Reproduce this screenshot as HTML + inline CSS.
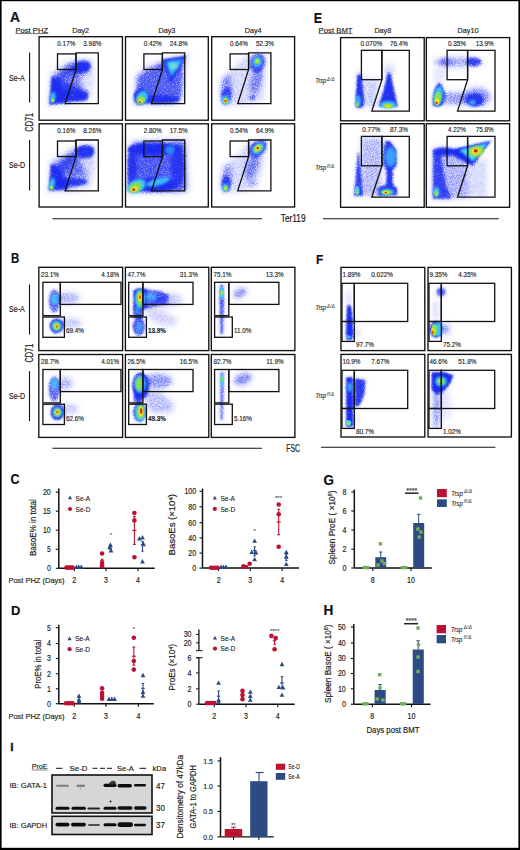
<!DOCTYPE html>
<html><head><meta charset="utf-8"><title>Figure</title>
<style>
html,body{margin:0;padding:0;background:#fff;}
body{width:520px;height:850px;overflow:hidden;font-family:"Liberation Sans", sans-serif;}
svg{display:block;}
</style></head><body>
<svg width="520" height="850" viewBox="0 0 520 850" font-family='"Liberation Sans", sans-serif'>
<defs>
<filter id="f3" x="-50%" y="-50%" width="200%" height="200%"><feGaussianBlur stdDeviation="0.3"/></filter>
<filter id="f4" x="-50%" y="-50%" width="200%" height="200%"><feGaussianBlur stdDeviation="0.4"/></filter>
<filter id="f5" x="-50%" y="-50%" width="200%" height="200%"><feGaussianBlur stdDeviation="0.5"/></filter>
<filter id="f6" x="-50%" y="-50%" width="200%" height="200%"><feGaussianBlur stdDeviation="0.6"/></filter>
<filter id="f7" x="-50%" y="-50%" width="200%" height="200%"><feGaussianBlur stdDeviation="0.7"/></filter>
<filter id="f8" x="-50%" y="-50%" width="200%" height="200%"><feGaussianBlur stdDeviation="0.8"/></filter>
<filter id="f9" x="-50%" y="-50%" width="200%" height="200%"><feGaussianBlur stdDeviation="0.9"/></filter>
<filter id="f10" x="-50%" y="-50%" width="200%" height="200%"><feGaussianBlur stdDeviation="1.0"/></filter>
<filter id="f11" x="-50%" y="-50%" width="200%" height="200%"><feGaussianBlur stdDeviation="1.1"/></filter>
<filter id="f12" x="-50%" y="-50%" width="200%" height="200%"><feGaussianBlur stdDeviation="1.2"/></filter>
<filter id="f13" x="-50%" y="-50%" width="200%" height="200%"><feGaussianBlur stdDeviation="1.3"/></filter>
<filter id="f15" x="-50%" y="-50%" width="200%" height="200%"><feGaussianBlur stdDeviation="1.5"/></filter>
<filter id="f20" x="-50%" y="-50%" width="200%" height="200%"><feGaussianBlur stdDeviation="2.0"/></filter>
<filter id="spB" x="0" y="0" width="520" height="850" filterUnits="userSpaceOnUse" color-interpolation-filters="sRGB"><feGaussianBlur in="SourceAlpha" stdDeviation="1.8" result="a"/><feTurbulence type="fractalNoise" baseFrequency="1.1" numOctaves="2" seed="3" result="n"/><feColorMatrix in="n" type="matrix" values="0 0 0 0 0  0 0 0 0 0  0 0 0 0 0  0 0 0 1 0" result="na"/><feComposite in="a" in2="na" operator="arithmetic" k1="0" k2="2.2" k3="2.2" k4="-1.87" result="m"/><feComposite in="m" in2="a" operator="arithmetic" k1="0.68" k2="0" k3="0.3" k4="0" result="m2"/><feFlood flood-color="#1526f0"/><feComposite in2="m2" operator="in"/><feGaussianBlur stdDeviation="0.3"/></filter>
<clipPath id="c1"><rect x="39.80" y="37.40" width="81.90" height="82.10"/></clipPath>
<clipPath id="c2"><rect x="126.20" y="37.40" width="81.40" height="82.10"/></clipPath>
<clipPath id="c3"><rect x="212.40" y="37.40" width="81.50" height="82.10"/></clipPath>
<clipPath id="c4"><rect x="39.80" y="124.50" width="81.90" height="81.80"/></clipPath>
<clipPath id="c5"><rect x="126.20" y="124.50" width="81.40" height="81.80"/></clipPath>
<clipPath id="c6"><rect x="212.40" y="124.50" width="81.50" height="81.80"/></clipPath>
<clipPath id="c7"><rect x="341.30" y="38.30" width="82.20" height="81.80"/></clipPath>
<clipPath id="c8"><rect x="427.00" y="38.30" width="81.90" height="81.80"/></clipPath>
<clipPath id="c9"><rect x="341.30" y="124.40" width="82.20" height="82.20"/></clipPath>
<clipPath id="c10"><rect x="427.00" y="124.40" width="81.90" height="82.20"/></clipPath>
<clipPath id="c11"><rect x="39.50" y="268.00" width="82.40" height="81.90"/></clipPath>
<clipPath id="c12"><rect x="126.10" y="268.00" width="82.00" height="81.90"/></clipPath>
<clipPath id="c13"><rect x="212.00" y="268.00" width="82.20" height="81.90"/></clipPath>
<clipPath id="c14"><rect x="39.50" y="355.20" width="82.40" height="81.50"/></clipPath>
<clipPath id="c15"><rect x="126.10" y="355.20" width="82.00" height="81.50"/></clipPath>
<clipPath id="c16"><rect x="212.00" y="355.20" width="82.20" height="81.50"/></clipPath>
<clipPath id="c17"><rect x="341.70" y="268.10" width="82.40" height="81.80"/></clipPath>
<clipPath id="c18"><rect x="428.70" y="268.10" width="82.00" height="81.80"/></clipPath>
<clipPath id="c19"><rect x="341.70" y="355.10" width="82.40" height="81.20"/></clipPath>
<clipPath id="c20"><rect x="428.70" y="355.10" width="82.00" height="81.20"/></clipPath>
</defs>
<rect x="0.00" y="0.00" width="520.00" height="850.00" fill="#fff"/>
<text transform="translate(10.00,21.90) scale(1.0,1)" x="0" y="0" font-size="13.8" text-anchor="start" font-weight="bold" font-style="normal" fill="#111" stroke="#111" stroke-width="0.200" >A</text>
<text x="15.40" y="32.50" font-size="7.6" textLength="32.70" lengthAdjust="spacingAndGlyphs" font-weight="normal" font-style="normal" fill="#222" stroke="#222" stroke-width="0.152">Post PHZ</text>
<line x1="15.40" y1="33.60" x2="48.10" y2="33.60" stroke="#333" stroke-width="0.7" />
<text transform="translate(80.70,32.50) scale(0.95,1)" x="0" y="0" font-size="7.6" text-anchor="middle" font-weight="normal" font-style="normal" fill="#222" stroke="#222" stroke-width="0.152" >Day2</text>
<text transform="translate(166.90,32.50) scale(0.95,1)" x="0" y="0" font-size="7.6" text-anchor="middle" font-weight="normal" font-style="normal" fill="#222" stroke="#222" stroke-width="0.152" >Day3</text>
<text transform="translate(253.10,32.50) scale(0.95,1)" x="0" y="0" font-size="7.6" text-anchor="middle" font-weight="normal" font-style="normal" fill="#222" stroke="#222" stroke-width="0.152" >Day4</text>
<text transform="translate(313.80,22.57) scale(0.9,1)" x="0" y="0" font-size="14.0" text-anchor="start" font-weight="bold" font-style="normal" fill="#111" stroke="#111" stroke-width="0.200" >E</text>
<text x="318.50" y="32.50" font-size="7.6" textLength="34.10" lengthAdjust="spacingAndGlyphs" font-weight="normal" font-style="normal" fill="#222" stroke="#222" stroke-width="0.152">Post BMT</text>
<line x1="318.50" y1="33.60" x2="352.60" y2="33.60" stroke="#333" stroke-width="0.7" />
<text transform="translate(382.80,32.50) scale(0.95,1)" x="0" y="0" font-size="7.6" text-anchor="middle" font-weight="normal" font-style="normal" fill="#222" stroke="#222" stroke-width="0.152" >Day8</text>
<text transform="translate(468.00,32.50) scale(0.95,1)" x="0" y="0" font-size="7.6" text-anchor="middle" font-weight="normal" font-style="normal" fill="#222" stroke="#222" stroke-width="0.152" >Day10</text>
<text transform="translate(11.00,262.51) scale(0.8,1)" x="0" y="0" font-size="14.4" text-anchor="start" font-weight="bold" font-style="normal" fill="#111" stroke="#111" stroke-width="0.200" >B</text>
<text transform="translate(316.00,263.69) scale(0.9,1)" x="0" y="0" font-size="13.2" text-anchor="start" font-weight="bold" font-style="normal" fill="#111" stroke="#111" stroke-width="0.200" >F</text>
<g clip-path="url(#c1)">
<g filter="url(#spB)">
<path d="M47.00,107.00 L49.00,72.00 L60.00,64.00 L75.00,58.00 L93.00,58.00 L95.00,80.00 L92.00,98.00 L88.00,103.00 L60.00,107.00 Z" fill="#3a4cf0" fill-opacity="0.35" filter="url(#f20)"/>
<path d="M48.50,105.00 L52.00,76.00 L89.00,92.00 L87.00,101.00 Z" fill="#3a4cf0" fill-opacity="0.7"/>
<path d="M48.50,105.00 L51.50,75.00 L58.00,82.00 L68.00,97.00 L66.00,103.00 Z" fill="#3a4cf0" fill-opacity="0.95"/>
<path d="M60.00,101.00 L62.00,90.00 L75.00,90.00 L89.00,93.00 L87.00,100.50 Z" fill="#3a4cf0" fill-opacity="0.92"/>
<ellipse cx="80.00" cy="68.00" rx="12.00" ry="8.50" fill="#3a4cf0" fill-opacity="0.5" transform="rotate(-15 80.00 68.00)" filter="url(#f20)"/>
<ellipse cx="82.00" cy="67.00" rx="9.00" ry="6.00" fill="#3a4cf0" fill-opacity="0.95" transform="rotate(-15 82.00 67.00)"/>
<path d="M51.00,80.00 L66.00,64.00 L74.00,62.00 L76.00,70.00 L62.00,80.00 L55.00,90.00 Z" fill="#3a4cf0" fill-opacity="0.55" filter="url(#f20)"/>
<path d="M52.00,77.00 L68.00,68.00 L78.00,72.00 L85.00,90.00 L68.00,92.00 L56.00,92.00 Z" fill="#3a4cf0" fill-opacity="0.55" filter="url(#f20)"/>
</g>
<ellipse cx="52.80" cy="97.50" rx="2.80" ry="5.50" fill="#3fd0ff" fill-opacity="0.85" filter="url(#f10)" transform="rotate(8 52.80 97.50)"/>
<ellipse cx="52.70" cy="100.30" rx="1.80" ry="2.00" fill="#8be04a" fill-opacity="1" filter="url(#f6)" transform="rotate(0 52.70 100.30)"/>
<ellipse cx="52.70" cy="100.50" rx="0.80" ry="0.80" fill="#f0e020" fill-opacity="1" filter="url(#f4)" transform="rotate(0 52.70 100.50)"/>
</g>
<g clip-path="url(#c2)">
<g filter="url(#spB)">
<path d="M133.00,106.00 L134.50,74.00 L145.00,66.00 L162.00,59.00 L190.00,52.00 L187.00,62.00 L184.00,97.00 L180.00,105.00 Z" fill="#3a4cf0" fill-opacity="0.45" filter="url(#f20)"/>
<path d="M135.00,104.00 L137.00,77.00 L146.00,70.00 L160.00,63.00 L184.00,57.00 L182.00,97.00 L177.00,103.00 Z" fill="#3a4cf0" fill-opacity="0.62" filter="url(#f20)"/>
<path d="M162.00,59.00 L187.00,55.50 L171.00,83.00 Z" fill="#3a4cf0" fill-opacity="1"/>
<ellipse cx="160.00" cy="99.50" rx="20.00" ry="4.50" fill="#3a4cf0" fill-opacity="0.85" transform="rotate(0 160.00 99.50)"/>
<ellipse cx="141.00" cy="97.00" rx="8.00" ry="8.00" fill="#3a4cf0" fill-opacity="1" transform="rotate(0 141.00 97.00)"/>
</g>
<path d="M166.00,61.50 L183.00,59.50 L171.00,77.00 Z" fill="#3fd0ff" fill-opacity="0.9" filter="url(#f15)"/>
<ellipse cx="173.50" cy="66.00" rx="4.50" ry="3.50" fill="#70e0d0" fill-opacity="0.8" filter="url(#f10)" transform="rotate(0 173.50 66.00)"/>
<ellipse cx="142.00" cy="97.50" rx="5.50" ry="7.00" fill="#3fd0ff" fill-opacity="0.9" filter="url(#f10)" transform="rotate(35 142.00 97.50)"/>
<ellipse cx="141.00" cy="100.00" rx="4.00" ry="4.00" fill="#8be04a" fill-opacity="1" filter="url(#f8)" transform="rotate(0 141.00 100.00)"/>
<ellipse cx="140.30" cy="101.30" rx="2.20" ry="2.00" fill="#f0e020" fill-opacity="1" filter="url(#f5)" transform="rotate(0 140.30 101.30)"/>
<ellipse cx="139.80" cy="102.00" rx="0.90" ry="0.90" fill="#a03010" fill-opacity="1" filter="url(#f3)" transform="rotate(0 139.80 102.00)"/>
</g>
<g clip-path="url(#c3)">
<g filter="url(#spB)">
<path d="M219.00,107.00 L220.00,78.00 L235.00,64.00 L249.00,53.00 L268.00,52.00 L266.00,80.00 L264.00,101.00 L245.00,106.00 Z" fill="#3a4cf0" fill-opacity="0.4" filter="url(#f20)"/>
<ellipse cx="226.00" cy="88.00" rx="6.00" ry="14.00" fill="#3a4cf0" fill-opacity="0.45" transform="rotate(8 226.00 88.00)" filter="url(#f20)"/>
<ellipse cx="226.50" cy="96.00" rx="5.50" ry="9.00" fill="#3a4cf0" fill-opacity="0.7" transform="rotate(10 226.50 96.00)"/>
<ellipse cx="257.50" cy="63.00" rx="8.00" ry="10.00" fill="#3a4cf0" fill-opacity="0.72" transform="rotate(15 257.50 63.00)"/>
<ellipse cx="256.00" cy="82.00" rx="6.00" ry="13.00" fill="#3a4cf0" fill-opacity="0.5" transform="rotate(15 256.00 82.00)" filter="url(#f20)"/>
<ellipse cx="252.40" cy="97.40" rx="3.50" ry="2.20" fill="#3a4cf0" fill-opacity="0.75" transform="rotate(0 252.40 97.40)"/>
</g>
<ellipse cx="225.50" cy="100.00" rx="3.80" ry="4.50" fill="#3fd0ff" fill-opacity="0.9" filter="url(#f8)" transform="rotate(0 225.50 100.00)"/>
<ellipse cx="225.50" cy="100.70" rx="2.60" ry="2.80" fill="#8be04a" fill-opacity="1" filter="url(#f6)" transform="rotate(0 225.50 100.70)"/>
<ellipse cx="225.50" cy="101.00" rx="1.90" ry="2.00" fill="#f0e020" fill-opacity="1" filter="url(#f5)" transform="rotate(0 225.50 101.00)"/>
<ellipse cx="225.50" cy="101.10" rx="1.20" ry="1.20" fill="#d04010" fill-opacity="1" filter="url(#f4)" transform="rotate(0 225.50 101.10)"/>
<ellipse cx="257.20" cy="61.50" rx="4.80" ry="5.50" fill="#3fd0ff" fill-opacity="0.75" filter="url(#f11)" transform="rotate(0 257.20 61.50)"/>
<ellipse cx="257.20" cy="61.20" rx="2.60" ry="2.60" fill="#8be04a" fill-opacity="1" filter="url(#f6)" transform="rotate(0 257.20 61.20)"/>
<ellipse cx="257.20" cy="61.20" rx="1.00" ry="1.00" fill="#f0e020" fill-opacity="0.8" filter="url(#f4)" transform="rotate(0 257.20 61.20)"/>
</g>
<g clip-path="url(#c4)">
<g filter="url(#spB)">
<path d="M47.00,193.00 L49.00,160.00 L62.00,152.00 L77.00,144.00 L96.00,143.00 L96.00,165.00 L91.00,188.00 L70.00,193.00 Z" fill="#3a4cf0" fill-opacity="0.42" filter="url(#f20)"/>
<path d="M48.00,191.00 L50.50,163.00 L58.00,168.00 L68.00,181.00 L68.00,190.00 Z" fill="#3a4cf0" fill-opacity="0.92"/>
<ellipse cx="70.00" cy="182.50" rx="18.00" ry="4.50" fill="#3a4cf0" fill-opacity="0.88" transform="rotate(-3 70.00 182.50)"/>
<ellipse cx="85.50" cy="151.50" rx="9.50" ry="7.00" fill="#3a4cf0" fill-opacity="0.92" transform="rotate(0 85.50 151.50)"/>
<path d="M51.00,170.00 L76.00,147.00 L84.00,153.00 L58.00,178.00 Z" fill="#3a4cf0" fill-opacity="0.55" filter="url(#f20)"/>
<path d="M52.00,165.00 L70.00,155.00 L80.00,158.00 L88.00,177.00 L68.00,179.00 L56.00,178.00 Z" fill="#3a4cf0" fill-opacity="0.55" filter="url(#f20)"/>
</g>
<ellipse cx="51.80" cy="184.00" rx="2.80" ry="6.00" fill="#3fd0ff" fill-opacity="0.9" filter="url(#f10)" transform="rotate(15 51.80 184.00)"/>
<ellipse cx="51.40" cy="187.40" rx="1.80" ry="2.20" fill="#8be04a" fill-opacity="1" filter="url(#f6)" transform="rotate(0 51.40 187.40)"/>
<ellipse cx="51.40" cy="187.60" rx="0.80" ry="0.80" fill="#f0e020" fill-opacity="1" filter="url(#f4)" transform="rotate(0 51.40 187.60)"/>
</g>
<g clip-path="url(#c5)">
<g filter="url(#spB)">
<path d="M126.00,194.00 L127.00,146.00 L134.00,139.00 L188.00,138.00 L190.00,192.00 L182.00,194.00 Z" fill="#3a4cf0" fill-opacity="0.5" filter="url(#f20)"/>
<path d="M127.50,192.00 L128.00,150.00 L135.00,143.00 L185.00,142.00 L186.00,190.00 L180.00,192.00 Z" fill="#3a4cf0" fill-opacity="0.62" filter="url(#f20)"/>
<ellipse cx="153.00" cy="149.00" rx="26.00" ry="6.50" fill="#3a4cf0" fill-opacity="0.95" transform="rotate(0 153.00 149.00)"/>
<ellipse cx="132.00" cy="168.00" rx="5.00" ry="20.00" fill="#3a4cf0" fill-opacity="0.8" transform="rotate(0 132.00 168.00)"/>
<ellipse cx="153.00" cy="185.00" rx="25.00" ry="7.00" fill="#3a4cf0" fill-opacity="0.95" transform="rotate(0 153.00 185.00)"/>
<ellipse cx="178.00" cy="165.00" rx="7.00" ry="20.00" fill="#3a4cf0" fill-opacity="0.72" transform="rotate(0 178.00 165.00)"/>
</g>
<ellipse cx="158.00" cy="182.00" rx="12.00" ry="3.50" fill="#3fd0ff" fill-opacity="0.85" filter="url(#f13)" transform="rotate(-15 158.00 182.00)"/>
<ellipse cx="170.00" cy="150.00" rx="5.00" ry="4.00" fill="#3fd0ff" fill-opacity="0.55" filter="url(#f13)" transform="rotate(0 170.00 150.00)"/>
<ellipse cx="136.50" cy="186.00" rx="10.00" ry="6.50" fill="#3fd0ff" fill-opacity="0.9" filter="url(#f12)" transform="rotate(-25 136.50 186.00)"/>
<ellipse cx="135.30" cy="187.50" rx="7.00" ry="4.50" fill="#8be04a" fill-opacity="1" filter="url(#f10)" transform="rotate(-25 135.30 187.50)"/>
<ellipse cx="134.20" cy="189.00" rx="3.50" ry="2.60" fill="#f0e020" fill-opacity="1" filter="url(#f6)" transform="rotate(0 134.20 189.00)"/>
<ellipse cx="133.70" cy="189.60" rx="1.50" ry="1.30" fill="#d02010" fill-opacity="1" filter="url(#f4)" transform="rotate(0 133.70 189.60)"/>
</g>
<g clip-path="url(#c6)">
<g filter="url(#spB)">
<path d="M221.00,194.00 L222.00,168.00 L238.00,153.00 L249.00,140.00 L268.00,138.00 L264.00,165.00 L258.00,188.00 L240.00,193.00 Z" fill="#3a4cf0" fill-opacity="0.4" filter="url(#f20)"/>
<ellipse cx="226.00" cy="176.00" rx="6.00" ry="14.00" fill="#3a4cf0" fill-opacity="0.42" transform="rotate(8 226.00 176.00)" filter="url(#f20)"/>
<ellipse cx="258.00" cy="148.50" rx="10.50" ry="7.50" fill="#3a4cf0" fill-opacity="0.8" transform="rotate(-40 258.00 148.50)"/>
<ellipse cx="252.00" cy="167.00" rx="6.00" ry="14.00" fill="#3a4cf0" fill-opacity="0.52" transform="rotate(20 252.00 167.00)" filter="url(#f20)"/>
<ellipse cx="226.00" cy="184.00" rx="5.00" ry="8.50" fill="#3a4cf0" fill-opacity="0.8" transform="rotate(0 226.00 184.00)"/>
<ellipse cx="252.40" cy="183.80" rx="3.80" ry="2.20" fill="#3a4cf0" fill-opacity="0.6" transform="rotate(0 252.40 183.80)" filter="url(#f20)"/>
</g>
<ellipse cx="258.00" cy="148.50" rx="7.00" ry="4.60" fill="#3fd0ff" fill-opacity="0.9" filter="url(#f10)" transform="rotate(-40 258.00 148.50)"/>
<ellipse cx="257.80" cy="148.30" rx="4.60" ry="3.20" fill="#8be04a" fill-opacity="1" filter="url(#f7)" transform="rotate(-40 257.80 148.30)"/>
<ellipse cx="257.80" cy="148.20" rx="2.60" ry="2.00" fill="#f0e020" fill-opacity="1" filter="url(#f5)" transform="rotate(-40 257.80 148.20)"/>
<ellipse cx="257.80" cy="148.20" rx="1.30" ry="1.10" fill="#d02010" fill-opacity="1" filter="url(#f4)" transform="rotate(0 257.80 148.20)"/>
<ellipse cx="225.50" cy="187.50" rx="3.20" ry="3.80" fill="#3fd0ff" fill-opacity="0.9" filter="url(#f8)" transform="rotate(0 225.50 187.50)"/>
<ellipse cx="225.50" cy="188.30" rx="2.10" ry="2.20" fill="#8be04a" fill-opacity="1" filter="url(#f6)" transform="rotate(0 225.50 188.30)"/>
<ellipse cx="225.50" cy="188.50" rx="1.00" ry="1.00" fill="#f0e020" fill-opacity="1" filter="url(#f4)" transform="rotate(0 225.50 188.50)"/>
</g>
<g clip-path="url(#c7)">
<g filter="url(#spB)">
<path d="M364.00,78.00 L379.00,78.00 L378.00,108.00 L364.00,108.00 Z" fill="#3a4cf0" fill-opacity="0.45" filter="url(#f20)"/>
<ellipse cx="389.00" cy="70.00" rx="6.00" ry="7.00" fill="#3a4cf0" fill-opacity="0.42" transform="rotate(0 389.00 70.00)" filter="url(#f20)"/>
<ellipse cx="359.00" cy="76.00" rx="3.50" ry="6.00" fill="#3a4cf0" fill-opacity="0.4" transform="rotate(0 359.00 76.00)" filter="url(#f20)"/>
<path d="M357.00,74.00 L361.50,74.00 L363.50,88.00 L364.50,100.00 L364.00,107.00 L361.00,108.50 L355.50,108.50 L354.80,104.00 L355.50,88.00 Z" fill="#3a4cf0" fill-opacity="0.97"/>
<path d="M387.00,73.00 L391.00,73.00 L394.50,88.00 L397.00,100.00 L398.50,107.50 L378.50,107.50 L380.00,100.00 L383.50,88.00 Z" fill="#3a4cf0" fill-opacity="0.97"/>
</g>
<ellipse cx="358.20" cy="101.00" rx="2.60" ry="6.00" fill="#3fd0ff" fill-opacity="0.8" filter="url(#f8)" transform="rotate(0 358.20 101.00)"/>
<ellipse cx="357.60" cy="104.50" rx="1.50" ry="2.50" fill="#8be04a" fill-opacity="0.85" filter="url(#f6)" transform="rotate(0 357.60 104.50)"/>
<ellipse cx="388.30" cy="104.80" rx="8.00" ry="3.80" fill="#3fd0ff" fill-opacity="0.9" filter="url(#f9)" transform="rotate(0 388.30 104.80)"/>
<ellipse cx="388.00" cy="105.80" rx="5.00" ry="2.30" fill="#8be04a" fill-opacity="1" filter="url(#f6)" transform="rotate(0 388.00 105.80)"/>
<ellipse cx="387.80" cy="106.20" rx="2.20" ry="1.20" fill="#f0e020" fill-opacity="1" filter="url(#f4)" transform="rotate(0 387.80 106.20)"/>
</g>
<g clip-path="url(#c8)">
<g filter="url(#spB)">
<ellipse cx="458.00" cy="62.00" rx="26.00" ry="6.50" fill="#3a4cf0" fill-opacity="0.55" transform="rotate(0 458.00 62.00)" filter="url(#f20)"/>
<ellipse cx="446.00" cy="62.00" rx="7.00" ry="4.00" fill="#3a4cf0" fill-opacity="0.55" transform="rotate(0 446.00 62.00)" filter="url(#f20)"/>
<ellipse cx="474.00" cy="62.00" rx="8.00" ry="5.00" fill="#3a4cf0" fill-opacity="0.78" transform="rotate(0 474.00 62.00)"/>
<ellipse cx="440.00" cy="75.00" rx="8.00" ry="8.00" fill="#3a4cf0" fill-opacity="0.3" transform="rotate(0 440.00 75.00)" filter="url(#f20)"/>
<path d="M444.00,90.00 L466.00,92.00 L468.00,106.00 L444.00,106.00 Z" fill="#3a4cf0" fill-opacity="0.6" filter="url(#f20)"/>
<path d="M432.00,106.50 L432.30,96.00 L434.50,87.00 L438.50,82.00 L442.00,84.00 L445.50,95.00 L444.00,104.00 L440.00,107.50 Z" fill="#3a4cf0" fill-opacity="0.97"/>
<ellipse cx="477.00" cy="97.00" rx="15.00" ry="11.00" fill="#3a4cf0" fill-opacity="0.62" transform="rotate(0 477.00 97.00)" filter="url(#f20)"/>
<ellipse cx="475.00" cy="100.00" rx="9.00" ry="7.00" fill="#3a4cf0" fill-opacity="0.88" transform="rotate(0 475.00 100.00)"/>
</g>
<ellipse cx="438.20" cy="96.00" rx="4.60" ry="10.00" fill="#3fd0ff" fill-opacity="0.9" filter="url(#f9)" transform="rotate(8 438.20 96.00)"/>
<ellipse cx="437.60" cy="98.50" rx="3.40" ry="7.00" fill="#8be04a" fill-opacity="0.95" filter="url(#f7)" transform="rotate(8 437.60 98.50)"/>
<ellipse cx="437.00" cy="101.20" rx="2.20" ry="3.20" fill="#f0e020" fill-opacity="1" filter="url(#f5)" transform="rotate(0 437.00 101.20)"/>
<ellipse cx="436.60" cy="102.90" rx="1.10" ry="1.10" fill="#d02010" fill-opacity="1" filter="url(#f4)" transform="rotate(0 436.60 102.90)"/>
<ellipse cx="472.30" cy="102.30" rx="3.00" ry="2.30" fill="#3fd0ff" fill-opacity="0.8" filter="url(#f8)" transform="rotate(0 472.30 102.30)"/>
</g>
<g clip-path="url(#c9)">
<g filter="url(#spB)">
<path d="M360.00,137.00 L384.00,137.00 L382.00,197.00 L361.00,197.00 Z" fill="#3a4cf0" fill-opacity="0.52" filter="url(#f20)"/>
<path d="M357.00,152.00 L359.00,152.00 L361.50,175.00 L363.00,196.50 L353.00,196.80 L354.50,182.00 Z" fill="#3a4cf0" fill-opacity="0.9"/>
<path d="M386.00,140.00 L390.00,140.00 L397.30,150.00 L397.30,166.00 L393.50,170.00 L393.50,184.00 L397.80,188.00 L397.80,196.00 L378.00,196.50 L378.50,188.00 L385.80,184.00 L385.80,170.00 L382.90,164.00 L383.50,148.00 Z" fill="#3a4cf0" fill-opacity="0.95"/>
</g>
<ellipse cx="357.20" cy="190.50" rx="2.40" ry="4.50" fill="#3fd0ff" fill-opacity="0.9" filter="url(#f7)" transform="rotate(0 357.20 190.50)"/>
<ellipse cx="357.00" cy="192.00" rx="1.40" ry="2.50" fill="#8be04a" fill-opacity="0.9" filter="url(#f5)" transform="rotate(0 357.00 192.00)"/>
<ellipse cx="390.60" cy="157.00" rx="5.50" ry="10.00" fill="#3fd0ff" fill-opacity="0.7" filter="url(#f15)" transform="rotate(0 390.60 157.00)"/>
<ellipse cx="387.00" cy="192.00" rx="7.00" ry="3.20" fill="#3fd0ff" fill-opacity="0.9" filter="url(#f8)" transform="rotate(0 387.00 192.00)"/>
<ellipse cx="386.50" cy="192.30" rx="4.80" ry="2.20" fill="#8be04a" fill-opacity="1" filter="url(#f6)" transform="rotate(0 386.50 192.30)"/>
<ellipse cx="386.00" cy="192.50" rx="2.60" ry="1.40" fill="#f0e020" fill-opacity="1" filter="url(#f5)" transform="rotate(0 386.00 192.50)"/>
<ellipse cx="385.80" cy="192.60" rx="1.20" ry="0.80" fill="#d02010" fill-opacity="1" filter="url(#f3)" transform="rotate(0 385.80 192.60)"/>
</g>
<g clip-path="url(#c10)">
<g filter="url(#spB)">
<path d="M432.00,199.50 L432.50,147.00 L448.00,146.00 L467.00,160.00 L468.00,199.50 Z" fill="#3a4cf0" fill-opacity="0.55" filter="url(#f20)"/>
<path d="M466.00,160.00 L488.00,158.00 L488.00,197.50 L466.00,197.50 Z" fill="#3a4cf0" fill-opacity="0.38" filter="url(#f20)"/>
<path d="M432.00,199.50 L432.50,150.00 L440.00,152.00 L446.00,185.00 L452.00,199.50 Z" fill="#3a4cf0" fill-opacity="0.78"/>
<ellipse cx="444.50" cy="151.50" rx="12.50" ry="4.50" fill="#3a4cf0" fill-opacity="0.9" transform="rotate(0 444.50 151.50)"/>
<path d="M444.00,150.50 L493.00,139.50 L472.50,166.00 Z" fill="#3a4cf0" fill-opacity="1"/>
</g>
<path d="M459.00,150.00 L488.50,142.50 L473.00,161.50 Z" fill="#3fd0ff" fill-opacity="1" filter="url(#f13)"/>
<ellipse cx="476.30" cy="151.30" rx="8.00" ry="5.40" fill="#8be04a" fill-opacity="1" filter="url(#f10)" transform="rotate(-10 476.30 151.30)"/>
<ellipse cx="475.80" cy="151.20" rx="4.60" ry="3.30" fill="#f0e020" fill-opacity="1" filter="url(#f8)" transform="rotate(-8 475.80 151.20)"/>
<ellipse cx="475.80" cy="150.90" rx="2.00" ry="1.60" fill="#d02010" fill-opacity="1" filter="url(#f5)" transform="rotate(0 475.80 150.90)"/>
<ellipse cx="436.30" cy="192.00" rx="3.20" ry="5.00" fill="#3fd0ff" fill-opacity="0.9" filter="url(#f8)" transform="rotate(0 436.30 192.00)"/>
<ellipse cx="436.30" cy="193.50" rx="2.00" ry="2.80" fill="#8be04a" fill-opacity="1" filter="url(#f6)" transform="rotate(0 436.30 193.50)"/>
</g>
<g clip-path="url(#c11)">
<g filter="url(#spB)">
<ellipse cx="68.00" cy="298.00" rx="13.00" ry="7.00" fill="#3a4cf0" fill-opacity="0.52" transform="rotate(0 68.00 298.00)" filter="url(#f20)"/>
<ellipse cx="71.00" cy="323.00" rx="12.00" ry="6.00" fill="#3a4cf0" fill-opacity="0.48" transform="rotate(0 71.00 323.00)" filter="url(#f20)"/>
<ellipse cx="54.40" cy="301.00" rx="6.50" ry="12.50" fill="#3a4cf0" fill-opacity="0.74" transform="rotate(0 54.40 301.00)"/>
<ellipse cx="56.50" cy="326.00" rx="7.50" ry="8.00" fill="#3a4cf0" fill-opacity="0.97" transform="rotate(0 56.50 326.00)"/>
</g>
<ellipse cx="54.80" cy="299.00" rx="3.80" ry="5.50" fill="#3fd0ff" fill-opacity="0.75" filter="url(#f11)" transform="rotate(0 54.80 299.00)"/>
<ellipse cx="56.50" cy="326.00" rx="5.00" ry="5.20" fill="#3fd0ff" fill-opacity="0.9" filter="url(#f10)" transform="rotate(0 56.50 326.00)"/>
<ellipse cx="56.60" cy="326.20" rx="3.60" ry="3.80" fill="#8be04a" fill-opacity="1" filter="url(#f8)" transform="rotate(0 56.60 326.20)"/>
<ellipse cx="56.70" cy="326.30" rx="2.20" ry="2.40" fill="#f0e020" fill-opacity="1" filter="url(#f6)" transform="rotate(0 56.70 326.30)"/>
<ellipse cx="56.70" cy="326.50" rx="1.00" ry="1.30" fill="#d06010" fill-opacity="1" filter="url(#f4)" transform="rotate(0 56.70 326.50)"/>
</g>
<g clip-path="url(#c12)">
<g filter="url(#spB)">
<ellipse cx="168.00" cy="300.00" rx="16.00" ry="8.00" fill="#3a4cf0" fill-opacity="0.45" transform="rotate(0 168.00 300.00)" filter="url(#f20)"/>
<path d="M145.00,306.00 L160.00,308.00 L178.00,318.00 L176.00,327.00 L160.00,326.00 L146.00,318.00 Z" fill="#3a4cf0" fill-opacity="0.42" filter="url(#f20)"/>
<path d="M132.50,304.00 L143.00,304.00 L143.00,318.00 L132.50,318.00 Z" fill="#3a4cf0" fill-opacity="0.85"/>
<path d="M132.50,290.00 L138.00,287.50 L147.00,288.00 L147.00,309.00 L133.00,311.00 Z" fill="#3a4cf0" fill-opacity="0.97"/>
<path d="M146.00,288.50 L160.00,290.00 L169.00,295.00 L168.00,304.00 L150.00,308.00 L146.00,308.00 Z" fill="#3a4cf0" fill-opacity="0.78"/>
<ellipse cx="138.80" cy="326.50" rx="7.00" ry="10.00" fill="#3a4cf0" fill-opacity="0.8" transform="rotate(0 138.80 326.50)"/>
</g>
<ellipse cx="151.00" cy="297.00" rx="6.00" ry="4.00" fill="#3fd0ff" fill-opacity="0.55" filter="url(#f13)" transform="rotate(0 151.00 297.00)"/>
<ellipse cx="140.00" cy="299.00" rx="5.00" ry="10.00" fill="#3fd0ff" fill-opacity="0.85" filter="url(#f10)" transform="rotate(0 140.00 299.00)"/>
<ellipse cx="140.00" cy="298.50" rx="3.40" ry="7.50" fill="#8be04a" fill-opacity="0.95" filter="url(#f8)" transform="rotate(0 140.00 298.50)"/>
<ellipse cx="140.00" cy="297.50" rx="2.00" ry="4.20" fill="#f0e020" fill-opacity="1" filter="url(#f6)" transform="rotate(0 140.00 297.50)"/>
<ellipse cx="140.00" cy="297.00" rx="1.00" ry="2.00" fill="#e05010" fill-opacity="1" filter="url(#f4)" transform="rotate(0 140.00 297.00)"/>
<ellipse cx="139.00" cy="327.50" rx="3.00" ry="5.00" fill="#3fd0ff" fill-opacity="0.55" filter="url(#f12)" transform="rotate(0 139.00 327.50)"/>
<ellipse cx="137.50" cy="310.00" rx="2.50" ry="4.00" fill="#3fd0ff" fill-opacity="0.5" filter="url(#f10)" transform="rotate(0 137.50 310.00)"/>
</g>
<g clip-path="url(#c13)">
<g filter="url(#spB)">
<ellipse cx="240.00" cy="293.00" rx="9.00" ry="6.00" fill="#3a4cf0" fill-opacity="0.64" transform="rotate(-30 240.00 293.00)" filter="url(#f20)"/>
<path d="M219.00,284.00 L224.00,284.00 L225.00,300.00 L224.00,335.00 L219.50,335.00 L218.50,300.00 Z" fill="#3a4cf0" fill-opacity="0.78"/>
</g>
<ellipse cx="221.60" cy="293.00" rx="2.00" ry="6.00" fill="#3fd0ff" fill-opacity="0.9" filter="url(#f7)" transform="rotate(0 221.60 293.00)"/>
<ellipse cx="221.60" cy="293.00" rx="1.30" ry="3.00" fill="#8be04a" fill-opacity="0.9" filter="url(#f5)" transform="rotate(0 221.60 293.00)"/>
<ellipse cx="221.60" cy="293.00" rx="0.80" ry="1.50" fill="#f0e020" fill-opacity="0.9" filter="url(#f4)" transform="rotate(0 221.60 293.00)"/>
</g>
<g clip-path="url(#c14)">
<g filter="url(#spB)">
<ellipse cx="65.00" cy="383.00" rx="9.00" ry="7.50" fill="#3a4cf0" fill-opacity="0.52" transform="rotate(0 65.00 383.00)" filter="url(#f20)"/>
<ellipse cx="69.00" cy="409.00" rx="11.00" ry="6.50" fill="#3a4cf0" fill-opacity="0.45" transform="rotate(0 69.00 409.00)" filter="url(#f20)"/>
<ellipse cx="54.20" cy="389.00" rx="6.50" ry="13.50" fill="#3a4cf0" fill-opacity="0.74" transform="rotate(0 54.20 389.00)"/>
<ellipse cx="57.30" cy="412.50" rx="7.50" ry="8.50" fill="#3a4cf0" fill-opacity="0.97" transform="rotate(0 57.30 412.50)"/>
</g>
<ellipse cx="54.60" cy="383.50" rx="3.50" ry="5.50" fill="#3fd0ff" fill-opacity="0.75" filter="url(#f11)" transform="rotate(0 54.60 383.50)"/>
<ellipse cx="57.30" cy="412.20" rx="4.80" ry="5.40" fill="#3fd0ff" fill-opacity="0.9" filter="url(#f10)" transform="rotate(0 57.30 412.20)"/>
<ellipse cx="57.30" cy="412.20" rx="3.30" ry="3.80" fill="#8be04a" fill-opacity="1" filter="url(#f8)" transform="rotate(0 57.30 412.20)"/>
<ellipse cx="57.30" cy="412.20" rx="2.00" ry="2.50" fill="#f0e020" fill-opacity="1" filter="url(#f6)" transform="rotate(0 57.30 412.20)"/>
<ellipse cx="57.30" cy="412.20" rx="0.90" ry="1.40" fill="#d05010" fill-opacity="1" filter="url(#f4)" transform="rotate(0 57.30 412.20)"/>
</g>
<g clip-path="url(#c15)">
<g filter="url(#spB)">
<ellipse cx="158.00" cy="381.00" rx="16.00" ry="9.00" fill="#3a4cf0" fill-opacity="0.62" transform="rotate(0 158.00 381.00)" filter="url(#f20)"/>
<path d="M145.00,390.00 L162.00,392.00 L176.00,404.00 L172.00,413.00 L152.00,414.00 L145.00,406.00 Z" fill="#3a4cf0" fill-opacity="0.5" filter="url(#f20)"/>
<path d="M133.00,389.00 L142.00,389.00 L142.00,403.00 L133.00,403.00 Z" fill="#3a4cf0" fill-opacity="0.8"/>
<ellipse cx="140.50" cy="386.00" rx="9.00" ry="14.00" fill="#3a4cf0" fill-opacity="0.95" transform="rotate(0 140.50 386.00)"/>
<ellipse cx="139.50" cy="412.50" rx="7.00" ry="10.00" fill="#3a4cf0" fill-opacity="0.92" transform="rotate(0 139.50 412.50)"/>
</g>
<ellipse cx="140.00" cy="384.00" rx="5.50" ry="9.00" fill="#3fd0ff" fill-opacity="0.85" filter="url(#f10)" transform="rotate(0 140.00 384.00)"/>
<ellipse cx="139.00" cy="384.00" rx="3.50" ry="6.50" fill="#8be04a" fill-opacity="0.95" filter="url(#f8)" transform="rotate(0 139.00 384.00)"/>
<ellipse cx="140.00" cy="412.50" rx="5.20" ry="9.00" fill="#3fd0ff" fill-opacity="0.9" filter="url(#f10)" transform="rotate(0 140.00 412.50)"/>
<ellipse cx="140.50" cy="412.00" rx="3.70" ry="7.20" fill="#8be04a" fill-opacity="0.95" filter="url(#f8)" transform="rotate(0 140.50 412.00)"/>
<ellipse cx="141.00" cy="411.50" rx="2.30" ry="5.00" fill="#f0e020" fill-opacity="0.95" filter="url(#f6)" transform="rotate(0 141.00 411.50)"/>
<ellipse cx="141.20" cy="411.00" rx="1.20" ry="3.00" fill="#d02010" fill-opacity="0.95" filter="url(#f5)" transform="rotate(0 141.20 411.00)"/>
</g>
<g clip-path="url(#c16)">
<g filter="url(#spB)">
<ellipse cx="243.00" cy="379.00" rx="11.00" ry="7.00" fill="#3a4cf0" fill-opacity="0.66" transform="rotate(-20 243.00 379.00)" filter="url(#f20)"/>
<path d="M219.50,371.00 L224.50,371.00 L224.50,390.00 L223.50,421.00 L219.50,421.00 L219.50,390.00 Z" fill="#3a4cf0" fill-opacity="0.75"/>
</g>
<ellipse cx="222.00" cy="380.00" rx="2.00" ry="6.00" fill="#3fd0ff" fill-opacity="0.9" filter="url(#f7)" transform="rotate(0 222.00 380.00)"/>
<ellipse cx="222.00" cy="378.90" rx="1.40" ry="2.50" fill="#8be04a" fill-opacity="0.9" filter="url(#f5)" transform="rotate(0 222.00 378.90)"/>
</g>
<g clip-path="url(#c17)">
<g filter="url(#spB)">
<ellipse cx="348.80" cy="298.00" rx="2.50" ry="9.00" fill="#3a4cf0" fill-opacity="0.5" transform="rotate(0 348.80 298.00)" filter="url(#f20)"/>
<ellipse cx="357.00" cy="333.00" rx="4.50" ry="4.00" fill="#3a4cf0" fill-opacity="0.4" transform="rotate(0 357.00 333.00)" filter="url(#f20)"/>
<path d="M346.50,305.00 L351.50,305.00 L353.50,320.00 L353.80,338.00 L352.00,340.50 L346.00,340.50 L345.20,336.00 L345.80,320.00 Z" fill="#3a4cf0" fill-opacity="1"/>
</g>
<ellipse cx="348.30" cy="337.00" rx="2.50" ry="1.80" fill="#3fd0ff" fill-opacity="0.8" filter="url(#f6)" transform="rotate(0 348.30 337.00)"/>
</g>
<g clip-path="url(#c18)">
<g filter="url(#spB)">
<ellipse cx="436.00" cy="310.00" rx="4.50" ry="11.00" fill="#3a4cf0" fill-opacity="0.35" transform="rotate(0 436.00 310.00)" filter="url(#f20)"/>
<ellipse cx="441.00" cy="292.00" rx="5.50" ry="5.50" fill="#3a4cf0" fill-opacity="0.78" transform="rotate(0 441.00 292.00)"/>
<ellipse cx="446.00" cy="329.00" rx="5.50" ry="6.50" fill="#3a4cf0" fill-opacity="0.6" transform="rotate(0 446.00 329.00)" filter="url(#f20)"/>
<ellipse cx="436.00" cy="329.50" rx="7.00" ry="9.00" fill="#3a4cf0" fill-opacity="0.97" transform="rotate(0 436.00 329.50)"/>
</g>
<ellipse cx="437.50" cy="329.50" rx="5.00" ry="7.00" fill="#3fd0ff" fill-opacity="0.9" filter="url(#f9)" transform="rotate(0 437.50 329.50)"/>
<ellipse cx="434.20" cy="330.00" rx="3.00" ry="6.00" fill="#8be04a" fill-opacity="0.95" filter="url(#f7)" transform="rotate(0 434.20 330.00)"/>
<ellipse cx="433.00" cy="331.50" rx="1.60" ry="3.60" fill="#f0e020" fill-opacity="0.95" filter="url(#f5)" transform="rotate(0 433.00 331.50)"/>
<ellipse cx="432.70" cy="332.50" rx="1.00" ry="2.00" fill="#d04010" fill-opacity="0.9" filter="url(#f4)" transform="rotate(0 432.70 332.50)"/>
</g>
<g clip-path="url(#c19)">
<g filter="url(#spB)">
<ellipse cx="357.00" cy="420.00" rx="3.50" ry="2.50" fill="#3a4cf0" fill-opacity="0.45" transform="rotate(0 357.00 420.00)" filter="url(#f20)"/>
<path d="M345.50,376.50 L353.50,376.50 L353.80,427.50 L345.50,427.50 Z" fill="#3a4cf0" fill-opacity="1"/>
<path d="M354.50,377.50 L366.50,379.50 L365.00,395.00 L360.00,406.50 L354.50,407.00 Z" fill="#3a4cf0" fill-opacity="0.92"/>
</g>
<ellipse cx="349.80" cy="387.00" rx="2.50" ry="5.00" fill="#3fd0ff" fill-opacity="0.7" filter="url(#f10)" transform="rotate(0 349.80 387.00)"/>
<ellipse cx="348.30" cy="423.00" rx="3.00" ry="3.00" fill="#3fd0ff" fill-opacity="0.9" filter="url(#f7)" transform="rotate(0 348.30 423.00)"/>
<ellipse cx="348.30" cy="423.00" rx="2.00" ry="2.00" fill="#8be04a" fill-opacity="0.95" filter="url(#f6)" transform="rotate(0 348.30 423.00)"/>
</g>
<g clip-path="url(#c20)">
<g filter="url(#spB)">
<ellipse cx="446.00" cy="405.00" rx="6.00" ry="16.00" fill="#3a4cf0" fill-opacity="0.3" transform="rotate(0 446.00 405.00)" filter="url(#f20)"/>
<path d="M431.50,392.00 L441.00,392.00 L441.00,428.00 L431.50,428.00 Z" fill="#3a4cf0" fill-opacity="0.6" filter="url(#f20)"/>
<path d="M431.00,371.50 L445.00,371.50 L454.50,375.00 L450.00,385.00 L443.00,392.50 L436.00,394.50 L431.00,390.00 Z" fill="#3a4cf0" fill-opacity="1"/>
</g>
<ellipse cx="441.00" cy="381.40" rx="6.00" ry="5.00" fill="#3fd0ff" fill-opacity="0.85" filter="url(#f10)" transform="rotate(0 441.00 381.40)"/>
<ellipse cx="441.00" cy="381.40" rx="3.50" ry="3.00" fill="#8be04a" fill-opacity="0.9" filter="url(#f8)" transform="rotate(0 441.00 381.40)"/>
<ellipse cx="440.00" cy="381.00" rx="1.50" ry="1.50" fill="#f0e020" fill-opacity="0.9" filter="url(#f5)" transform="rotate(0 440.00 381.00)"/>
</g>
<rect x="39.10" y="36.70" width="83.30" height="83.50" stroke="#111" stroke-width="1.35" fill="none" />
<rect x="57.50" y="53.90" width="18.50" height="15.60" stroke="#111" stroke-width="1.3" fill="none" />
<path d="M76.00,52.90 L98.30,52.90 L98.30,103.70 L65.10,103.70 L76.00,69.50 Z" stroke="#111" stroke-width="1.3" fill="none" stroke-linejoin="miter"/>
<text transform="translate(66.30,46.03) scale(0.86,1)" x="0" y="0" font-size="7.4" text-anchor="middle" font-weight="normal" font-style="normal" fill="#222" stroke="#222" stroke-width="0.148" >0.17%</text>
<text transform="translate(92.30,46.03) scale(0.86,1)" x="0" y="0" font-size="7.4" text-anchor="middle" font-weight="normal" font-style="normal" fill="#222" stroke="#222" stroke-width="0.148" >3.98%</text>
<rect x="125.50" y="36.70" width="82.80" height="83.50" stroke="#111" stroke-width="1.35" fill="none" />
<rect x="143.90" y="53.90" width="18.50" height="15.60" stroke="#111" stroke-width="1.3" fill="none" />
<path d="M162.40,52.90 L184.70,52.90 L184.70,103.70 L151.50,103.70 L162.40,69.50 Z" stroke="#111" stroke-width="1.3" fill="none" stroke-linejoin="miter"/>
<text transform="translate(152.70,46.03) scale(0.86,1)" x="0" y="0" font-size="7.4" text-anchor="middle" font-weight="normal" font-style="normal" fill="#222" stroke="#222" stroke-width="0.148" >0.42%</text>
<text transform="translate(178.70,46.03) scale(0.86,1)" x="0" y="0" font-size="7.4" text-anchor="middle" font-weight="normal" font-style="normal" fill="#222" stroke="#222" stroke-width="0.148" >24.8%</text>
<rect x="211.70" y="36.70" width="82.90" height="83.50" stroke="#111" stroke-width="1.35" fill="none" />
<rect x="230.10" y="53.90" width="18.50" height="15.60" stroke="#111" stroke-width="1.3" fill="none" />
<path d="M248.60,52.90 L270.90,52.90 L270.90,103.70 L237.70,103.70 L248.60,69.50 Z" stroke="#111" stroke-width="1.3" fill="none" stroke-linejoin="miter"/>
<text transform="translate(238.90,46.03) scale(0.86,1)" x="0" y="0" font-size="7.4" text-anchor="middle" font-weight="normal" font-style="normal" fill="#222" stroke="#222" stroke-width="0.148" >0.64%</text>
<text transform="translate(264.90,46.03) scale(0.86,1)" x="0" y="0" font-size="7.4" text-anchor="middle" font-weight="normal" font-style="normal" fill="#222" stroke="#222" stroke-width="0.148" >52.3%</text>
<rect x="39.10" y="123.80" width="83.30" height="83.20" stroke="#111" stroke-width="1.35" fill="none" />
<rect x="57.50" y="141.00" width="18.50" height="15.60" stroke="#111" stroke-width="1.3" fill="none" />
<path d="M76.00,140.00 L98.30,140.00 L98.30,190.80 L65.10,190.80 L76.00,156.60 Z" stroke="#111" stroke-width="1.3" fill="none" stroke-linejoin="miter"/>
<text transform="translate(66.30,133.13) scale(0.86,1)" x="0" y="0" font-size="7.4" text-anchor="middle" font-weight="normal" font-style="normal" fill="#222" stroke="#222" stroke-width="0.148" >0.16%</text>
<text transform="translate(92.30,133.13) scale(0.86,1)" x="0" y="0" font-size="7.4" text-anchor="middle" font-weight="normal" font-style="normal" fill="#222" stroke="#222" stroke-width="0.148" >8.26%</text>
<rect x="125.50" y="123.80" width="82.80" height="83.20" stroke="#111" stroke-width="1.35" fill="none" />
<rect x="143.90" y="141.00" width="18.50" height="15.60" stroke="#111" stroke-width="1.3" fill="none" />
<path d="M162.40,140.00 L184.70,140.00 L184.70,190.80 L151.50,190.80 L162.40,156.60 Z" stroke="#111" stroke-width="1.3" fill="none" stroke-linejoin="miter"/>
<text transform="translate(152.70,133.13) scale(0.86,1)" x="0" y="0" font-size="7.4" text-anchor="middle" font-weight="normal" font-style="normal" fill="#222" stroke="#222" stroke-width="0.148" >2.80%</text>
<text transform="translate(178.70,133.13) scale(0.86,1)" x="0" y="0" font-size="7.4" text-anchor="middle" font-weight="normal" font-style="normal" fill="#222" stroke="#222" stroke-width="0.148" >17.5%</text>
<rect x="211.70" y="123.80" width="82.90" height="83.20" stroke="#111" stroke-width="1.35" fill="none" />
<rect x="230.10" y="141.00" width="18.50" height="15.60" stroke="#111" stroke-width="1.3" fill="none" />
<path d="M248.60,140.00 L270.90,140.00 L270.90,190.80 L237.70,190.80 L248.60,156.60 Z" stroke="#111" stroke-width="1.3" fill="none" stroke-linejoin="miter"/>
<text transform="translate(238.90,133.13) scale(0.86,1)" x="0" y="0" font-size="7.4" text-anchor="middle" font-weight="normal" font-style="normal" fill="#222" stroke="#222" stroke-width="0.148" >0.54%</text>
<text transform="translate(264.90,133.13) scale(0.86,1)" x="0" y="0" font-size="7.4" text-anchor="middle" font-weight="normal" font-style="normal" fill="#222" stroke="#222" stroke-width="0.148" >64.9%</text>
<text x="9.00" y="81.25" font-size="8.6" textLength="15.80" lengthAdjust="spacingAndGlyphs" font-weight="normal" font-style="normal" fill="#222" stroke="#222" stroke-width="0.172">Se-A</text>
<text x="9.00" y="167.55" font-size="8.6" textLength="16.20" lengthAdjust="spacingAndGlyphs" font-weight="normal" font-style="normal" fill="#222" stroke="#222" stroke-width="0.172">Se-D</text>
<line x1="29.60" y1="52.50" x2="29.60" y2="102.50" stroke="#111" stroke-width="1.1" />
<line x1="29.60" y1="140.00" x2="29.60" y2="190.50" stroke="#111" stroke-width="1.1" />
<g transform="translate(32.55,122.25) rotate(-90)"><text x="0" y="0" font-size="10" text-anchor="middle" fill="#222" stroke="#222" stroke-width="0.200" textLength="18.90" lengthAdjust="spacingAndGlyphs">CD71</text></g>
<line x1="52.50" y1="218.80" x2="262.00" y2="218.80" stroke="#111" stroke-width="1.1" />
<text x="280.80" y="222.03" font-size="10.5" textLength="24.80" lengthAdjust="spacingAndGlyphs" font-weight="normal" font-style="normal" fill="#222" stroke="#222" stroke-width="0.210">Ter119</text>
<rect x="340.60" y="37.60" width="83.60" height="83.20" stroke="#111" stroke-width="1.35" fill="none" />
<rect x="361.40" y="50.30" width="20.50" height="29.40" stroke="#111" stroke-width="1.3" fill="none" />
<path d="M381.90,50.30 L409.30,50.30 L409.30,111.10 L371.80,111.10 L381.90,79.70 Z" stroke="#111" stroke-width="1.3" fill="none" stroke-linejoin="miter"/>
<text transform="translate(371.30,46.03) scale(0.86,1)" x="0" y="0" font-size="7.4" text-anchor="middle" font-weight="normal" font-style="normal" fill="#222" stroke="#222" stroke-width="0.148" >0.070%</text>
<text transform="translate(399.00,46.03) scale(0.86,1)" x="0" y="0" font-size="7.4" text-anchor="middle" font-weight="normal" font-style="normal" fill="#222" stroke="#222" stroke-width="0.148" >76.4%</text>
<rect x="426.30" y="37.60" width="83.30" height="83.20" stroke="#111" stroke-width="1.35" fill="none" />
<rect x="447.10" y="50.30" width="20.50" height="29.40" stroke="#111" stroke-width="1.3" fill="none" />
<path d="M467.60,50.30 L495.00,50.30 L495.00,111.10 L457.50,111.10 L467.60,79.70 Z" stroke="#111" stroke-width="1.3" fill="none" stroke-linejoin="miter"/>
<text transform="translate(457.00,46.03) scale(0.86,1)" x="0" y="0" font-size="7.4" text-anchor="middle" font-weight="normal" font-style="normal" fill="#222" stroke="#222" stroke-width="0.148" >0.35%</text>
<text transform="translate(484.70,46.03) scale(0.86,1)" x="0" y="0" font-size="7.4" text-anchor="middle" font-weight="normal" font-style="normal" fill="#222" stroke="#222" stroke-width="0.148" >13.9%</text>
<rect x="340.60" y="123.70" width="83.60" height="83.60" stroke="#111" stroke-width="1.35" fill="none" />
<rect x="361.40" y="136.40" width="20.50" height="29.40" stroke="#111" stroke-width="1.3" fill="none" />
<path d="M381.90,136.40 L409.30,136.40 L409.30,197.20 L371.80,197.20 L381.90,165.80 Z" stroke="#111" stroke-width="1.3" fill="none" stroke-linejoin="miter"/>
<text transform="translate(371.30,132.13) scale(0.86,1)" x="0" y="0" font-size="7.4" text-anchor="middle" font-weight="normal" font-style="normal" fill="#222" stroke="#222" stroke-width="0.148" >0.77%</text>
<text transform="translate(399.00,132.13) scale(0.86,1)" x="0" y="0" font-size="7.4" text-anchor="middle" font-weight="normal" font-style="normal" fill="#222" stroke="#222" stroke-width="0.148" >87.3%</text>
<rect x="426.30" y="123.70" width="83.30" height="83.60" stroke="#111" stroke-width="1.35" fill="none" />
<rect x="447.10" y="136.40" width="20.50" height="29.40" stroke="#111" stroke-width="1.3" fill="none" />
<path d="M467.60,136.40 L495.00,136.40 L495.00,197.20 L457.50,197.20 L467.60,165.80 Z" stroke="#111" stroke-width="1.3" fill="none" stroke-linejoin="miter"/>
<text transform="translate(457.00,132.13) scale(0.86,1)" x="0" y="0" font-size="7.4" text-anchor="middle" font-weight="normal" font-style="normal" fill="#222" stroke="#222" stroke-width="0.148" >4.22%</text>
<text transform="translate(484.70,132.13) scale(0.86,1)" x="0" y="0" font-size="7.4" text-anchor="middle" font-weight="normal" font-style="normal" fill="#222" stroke="#222" stroke-width="0.148" >75.8%</text>
<line x1="323.00" y1="218.70" x2="498.80" y2="218.70" stroke="#111" stroke-width="1.1" />
<text transform="translate(315.50,83.24) scale(0.88,1)" font-size="6.3" font-style="italic" fill="#333" stroke="#333" stroke-width="0.15">Trsp<tspan font-size="4.91" dy="-2.27" dx="1.0" letter-spacing="0.35" stroke-width="0.05">Δ/Δ</tspan></text>
<text transform="translate(315.50,170.24) scale(0.88,1)" font-size="6.3" font-style="italic" fill="#333" stroke="#333" stroke-width="0.15">Trsp<tspan font-size="4.91" dy="-2.27" dx="1.0" letter-spacing="0.35" stroke-width="0.05">fl/Δ</tspan></text>
<rect x="38.80" y="267.30" width="83.80" height="83.30" stroke="#111" stroke-width="1.35" fill="none" />
<rect x="42.90" y="282.30" width="17.40" height="33.40" stroke="#111" stroke-width="1.3" fill="none" />
<rect x="60.30" y="282.30" width="60.70" height="22.10" stroke="#111" stroke-width="1.3" fill="none" />
<rect x="42.90" y="317.00" width="21.50" height="20.30" stroke="#111" stroke-width="1.3" fill="none" />
<text transform="translate(40.90,276.73) scale(0.86,1)" x="0" y="0" font-size="7.4" text-anchor="start" font-weight="normal" font-style="normal" fill="#222" stroke="#222" stroke-width="0.148" >23.1%</text>
<text transform="translate(119.20,276.73) scale(0.86,1)" x="0" y="0" font-size="7.4" text-anchor="end" font-weight="normal" font-style="normal" fill="#222" stroke="#222" stroke-width="0.148" >4.18%</text>
<text transform="translate(66.00,333.43) scale(0.86,1)" x="0" y="0" font-size="7.4" text-anchor="start" font-weight="normal" font-style="normal" fill="#222" stroke="#222" stroke-width="0.148" >69.4%</text>
<rect x="125.40" y="267.30" width="83.40" height="83.30" stroke="#111" stroke-width="1.35" fill="none" />
<rect x="128.70" y="282.30" width="14.20" height="33.40" stroke="#111" stroke-width="1.3" fill="none" />
<rect x="142.90" y="282.30" width="50.10" height="22.10" stroke="#111" stroke-width="1.3" fill="none" />
<rect x="128.70" y="317.00" width="17.70" height="20.30" stroke="#111" stroke-width="1.3" fill="none" />
<text transform="translate(127.50,276.73) scale(0.86,1)" x="0" y="0" font-size="7.4" text-anchor="start" font-weight="normal" font-style="normal" fill="#222" stroke="#222" stroke-width="0.148" >47.7%</text>
<text transform="translate(197.80,276.73) scale(0.86,1)" x="0" y="0" font-size="7.4" text-anchor="end" font-weight="normal" font-style="normal" fill="#222" stroke="#222" stroke-width="0.148" >31.3%</text>
<text transform="translate(148.00,333.43) scale(0.86,1)" x="0" y="0" font-size="7.4" text-anchor="start" font-weight="bold" font-style="normal" fill="#222" stroke="#222" stroke-width="0.148" >13.9%</text>
<rect x="211.30" y="267.30" width="83.60" height="83.30" stroke="#111" stroke-width="1.35" fill="none" />
<rect x="214.60" y="282.30" width="14.20" height="33.40" stroke="#111" stroke-width="1.3" fill="none" />
<rect x="228.80" y="282.30" width="50.10" height="22.10" stroke="#111" stroke-width="1.3" fill="none" />
<rect x="214.60" y="317.00" width="17.70" height="20.30" stroke="#111" stroke-width="1.3" fill="none" />
<text transform="translate(213.40,276.73) scale(0.86,1)" x="0" y="0" font-size="7.4" text-anchor="start" font-weight="normal" font-style="normal" fill="#222" stroke="#222" stroke-width="0.148" >75.1%</text>
<text transform="translate(283.70,276.73) scale(0.86,1)" x="0" y="0" font-size="7.4" text-anchor="end" font-weight="normal" font-style="normal" fill="#222" stroke="#222" stroke-width="0.148" >13.3%</text>
<text transform="translate(233.90,333.43) scale(0.86,1)" x="0" y="0" font-size="7.4" text-anchor="start" font-weight="normal" font-style="normal" fill="#222" stroke="#222" stroke-width="0.148" >11.0%</text>
<rect x="38.80" y="354.50" width="83.80" height="82.90" stroke="#111" stroke-width="1.35" fill="none" />
<rect x="42.90" y="369.50" width="17.40" height="33.40" stroke="#111" stroke-width="1.3" fill="none" />
<rect x="60.30" y="369.50" width="60.70" height="22.10" stroke="#111" stroke-width="1.3" fill="none" />
<rect x="42.90" y="404.20" width="21.50" height="20.30" stroke="#111" stroke-width="1.3" fill="none" />
<text transform="translate(40.90,363.93) scale(0.86,1)" x="0" y="0" font-size="7.4" text-anchor="start" font-weight="normal" font-style="normal" fill="#222" stroke="#222" stroke-width="0.148" >28.7%</text>
<text transform="translate(119.20,363.93) scale(0.86,1)" x="0" y="0" font-size="7.4" text-anchor="end" font-weight="normal" font-style="normal" fill="#222" stroke="#222" stroke-width="0.148" >4.01%</text>
<text transform="translate(66.00,420.63) scale(0.86,1)" x="0" y="0" font-size="7.4" text-anchor="start" font-weight="normal" font-style="normal" fill="#222" stroke="#222" stroke-width="0.148" >62.6%</text>
<rect x="125.40" y="354.50" width="83.40" height="82.90" stroke="#111" stroke-width="1.35" fill="none" />
<rect x="128.70" y="369.50" width="14.20" height="33.40" stroke="#111" stroke-width="1.3" fill="none" />
<rect x="142.90" y="369.50" width="50.10" height="22.10" stroke="#111" stroke-width="1.3" fill="none" />
<rect x="128.70" y="404.20" width="17.70" height="20.30" stroke="#111" stroke-width="1.3" fill="none" />
<text transform="translate(127.50,363.93) scale(0.86,1)" x="0" y="0" font-size="7.4" text-anchor="start" font-weight="normal" font-style="normal" fill="#222" stroke="#222" stroke-width="0.148" >26.5%</text>
<text transform="translate(197.80,363.93) scale(0.86,1)" x="0" y="0" font-size="7.4" text-anchor="end" font-weight="normal" font-style="normal" fill="#222" stroke="#222" stroke-width="0.148" >16.5%</text>
<text transform="translate(148.00,420.63) scale(0.86,1)" x="0" y="0" font-size="7.4" text-anchor="start" font-weight="bold" font-style="normal" fill="#222" stroke="#222" stroke-width="0.148" >49.3%</text>
<rect x="211.30" y="354.50" width="83.60" height="82.90" stroke="#111" stroke-width="1.35" fill="none" />
<rect x="214.60" y="369.50" width="14.20" height="33.40" stroke="#111" stroke-width="1.3" fill="none" />
<rect x="228.80" y="369.50" width="50.10" height="22.10" stroke="#111" stroke-width="1.3" fill="none" />
<rect x="214.60" y="404.20" width="17.70" height="20.30" stroke="#111" stroke-width="1.3" fill="none" />
<text transform="translate(213.40,363.93) scale(0.86,1)" x="0" y="0" font-size="7.4" text-anchor="start" font-weight="normal" font-style="normal" fill="#222" stroke="#222" stroke-width="0.148" >82.7%</text>
<text transform="translate(283.70,363.93) scale(0.86,1)" x="0" y="0" font-size="7.4" text-anchor="end" font-weight="normal" font-style="normal" fill="#222" stroke="#222" stroke-width="0.148" >11.9%</text>
<text transform="translate(233.90,420.63) scale(0.86,1)" x="0" y="0" font-size="7.4" text-anchor="start" font-weight="normal" font-style="normal" fill="#222" stroke="#222" stroke-width="0.148" >5.16%</text>
<text x="9.00" y="311.85" font-size="8.6" textLength="15.80" lengthAdjust="spacingAndGlyphs" font-weight="normal" font-style="normal" fill="#222" stroke="#222" stroke-width="0.172">Se-A</text>
<text x="9.00" y="398.55" font-size="8.6" textLength="16.20" lengthAdjust="spacingAndGlyphs" font-weight="normal" font-style="normal" fill="#222" stroke="#222" stroke-width="0.172">Se-D</text>
<line x1="29.50" y1="284.50" x2="29.50" y2="334.50" stroke="#111" stroke-width="1.1" />
<line x1="29.50" y1="371.20" x2="29.50" y2="421.20" stroke="#111" stroke-width="1.1" />
<g transform="translate(32.55,353.15) rotate(-90)"><text x="0" y="0" font-size="10" text-anchor="middle" fill="#222" stroke="#222" stroke-width="0.200" textLength="18.90" lengthAdjust="spacingAndGlyphs">CD71</text></g>
<line x1="52.50" y1="448.30" x2="262.00" y2="448.30" stroke="#111" stroke-width="1.1" />
<text x="286.30" y="451.73" font-size="10.5" textLength="13.70" lengthAdjust="spacingAndGlyphs" font-weight="normal" font-style="normal" fill="#222" stroke="#222" stroke-width="0.210">FSC</text>
<rect x="341.00" y="267.40" width="83.80" height="83.20" stroke="#111" stroke-width="1.35" fill="none" />
<rect x="342.00" y="283.30" width="12.30" height="38.20" stroke="#111" stroke-width="1.3" fill="none" />
<rect x="354.30" y="283.30" width="53.40" height="38.20" stroke="#111" stroke-width="1.3" fill="none" />
<rect x="342.00" y="321.50" width="12.30" height="19.90" stroke="#111" stroke-width="1.3" fill="none" />
<text transform="translate(342.50,277.33) scale(0.86,1)" x="0" y="0" font-size="7.4" text-anchor="start" font-weight="normal" font-style="normal" fill="#222" stroke="#222" stroke-width="0.148" >1.89%</text>
<text transform="translate(371.30,277.33) scale(0.86,1)" x="0" y="0" font-size="7.4" text-anchor="start" font-weight="normal" font-style="normal" fill="#222" stroke="#222" stroke-width="0.148" >0.022%</text>
<text transform="translate(356.00,346.83) scale(0.86,1)" x="0" y="0" font-size="7.4" text-anchor="start" font-weight="normal" font-style="normal" fill="#222" stroke="#222" stroke-width="0.148" >97.7%</text>
<rect x="428.00" y="267.40" width="83.40" height="83.20" stroke="#111" stroke-width="1.35" fill="none" />
<rect x="429.00" y="283.30" width="12.30" height="38.20" stroke="#111" stroke-width="1.3" fill="none" />
<rect x="441.30" y="283.30" width="53.40" height="38.20" stroke="#111" stroke-width="1.3" fill="none" />
<rect x="429.00" y="321.50" width="12.30" height="19.90" stroke="#111" stroke-width="1.3" fill="none" />
<text transform="translate(429.50,277.33) scale(0.86,1)" x="0" y="0" font-size="7.4" text-anchor="start" font-weight="normal" font-style="normal" fill="#222" stroke="#222" stroke-width="0.148" >9.35%</text>
<text transform="translate(458.30,277.33) scale(0.86,1)" x="0" y="0" font-size="7.4" text-anchor="start" font-weight="normal" font-style="normal" fill="#222" stroke="#222" stroke-width="0.148" >4.35%</text>
<text transform="translate(443.00,346.83) scale(0.86,1)" x="0" y="0" font-size="7.4" text-anchor="start" font-weight="normal" font-style="normal" fill="#222" stroke="#222" stroke-width="0.148" >75.2%</text>
<rect x="341.00" y="354.40" width="83.80" height="82.60" stroke="#111" stroke-width="1.35" fill="none" />
<rect x="342.00" y="370.30" width="12.30" height="38.20" stroke="#111" stroke-width="1.3" fill="none" />
<rect x="354.30" y="370.30" width="53.40" height="38.20" stroke="#111" stroke-width="1.3" fill="none" />
<rect x="342.00" y="408.50" width="12.30" height="19.90" stroke="#111" stroke-width="1.3" fill="none" />
<text transform="translate(342.50,364.33) scale(0.86,1)" x="0" y="0" font-size="7.4" text-anchor="start" font-weight="normal" font-style="normal" fill="#222" stroke="#222" stroke-width="0.148" >10.9%</text>
<text transform="translate(371.30,364.33) scale(0.86,1)" x="0" y="0" font-size="7.4" text-anchor="start" font-weight="normal" font-style="normal" fill="#222" stroke="#222" stroke-width="0.148" >7.67%</text>
<text transform="translate(356.00,433.83) scale(0.86,1)" x="0" y="0" font-size="7.4" text-anchor="start" font-weight="normal" font-style="normal" fill="#222" stroke="#222" stroke-width="0.148" >80.7%</text>
<rect x="428.00" y="354.40" width="83.40" height="82.60" stroke="#111" stroke-width="1.35" fill="none" />
<rect x="429.00" y="370.30" width="12.30" height="38.20" stroke="#111" stroke-width="1.3" fill="none" />
<rect x="441.30" y="370.30" width="53.40" height="38.20" stroke="#111" stroke-width="1.3" fill="none" />
<rect x="429.00" y="408.50" width="12.30" height="19.90" stroke="#111" stroke-width="1.3" fill="none" />
<text transform="translate(429.50,364.33) scale(0.86,1)" x="0" y="0" font-size="7.4" text-anchor="start" font-weight="normal" font-style="normal" fill="#222" stroke="#222" stroke-width="0.148" >46.6%</text>
<text transform="translate(458.30,364.33) scale(0.86,1)" x="0" y="0" font-size="7.4" text-anchor="start" font-weight="normal" font-style="normal" fill="#222" stroke="#222" stroke-width="0.148" >51.8%</text>
<text transform="translate(443.00,433.83) scale(0.86,1)" x="0" y="0" font-size="7.4" text-anchor="start" font-weight="normal" font-style="normal" fill="#222" stroke="#222" stroke-width="0.148" >1.02%</text>
<text transform="translate(315.50,309.94) scale(0.88,1)" font-size="6.3" font-style="italic" fill="#333" stroke="#333" stroke-width="0.15">Trsp<tspan font-size="4.91" dy="-2.27" dx="1.0" letter-spacing="0.35" stroke-width="0.05">Δ/Δ</tspan></text>
<text transform="translate(315.50,397.94) scale(0.88,1)" font-size="6.3" font-style="italic" fill="#333" stroke="#333" stroke-width="0.15">Trsp<tspan font-size="4.91" dy="-2.27" dx="1.0" letter-spacing="0.35" stroke-width="0.05">fl/Δ</tspan></text>
<line x1="321.00" y1="447.30" x2="495.40" y2="447.30" stroke="#111" stroke-width="1.1" />
<text transform="translate(10.40,484.30) scale(0.91,1)" x="0" y="0" font-size="13.8" text-anchor="start" font-weight="bold" font-style="normal" fill="#111" stroke="#111" stroke-width="0.200" >C</text>
<line x1="58.80" y1="488.50" x2="58.80" y2="568.30" stroke="#111" stroke-width="1.5" />
<line x1="55.80" y1="492.20" x2="58.80" y2="492.20" stroke="#111" stroke-width="1.1" />
<text transform="translate(50.80,495.15) scale(0.85,1)" x="0" y="0" font-size="8.3" text-anchor="end" font-weight="normal" font-style="normal" fill="#222" stroke="#222" stroke-width="0.166" >20</text>
<line x1="55.80" y1="511.20" x2="58.80" y2="511.20" stroke="#111" stroke-width="1.1" />
<text transform="translate(50.80,514.15) scale(0.85,1)" x="0" y="0" font-size="8.3" text-anchor="end" font-weight="normal" font-style="normal" fill="#222" stroke="#222" stroke-width="0.166" >15</text>
<line x1="55.80" y1="530.20" x2="58.80" y2="530.20" stroke="#111" stroke-width="1.1" />
<text transform="translate(50.80,533.15) scale(0.85,1)" x="0" y="0" font-size="8.3" text-anchor="end" font-weight="normal" font-style="normal" fill="#222" stroke="#222" stroke-width="0.166" >10</text>
<line x1="55.80" y1="549.30" x2="58.80" y2="549.30" stroke="#111" stroke-width="1.1" />
<text transform="translate(50.80,552.25) scale(0.85,1)" x="0" y="0" font-size="8.3" text-anchor="end" font-weight="normal" font-style="normal" fill="#222" stroke="#222" stroke-width="0.166" >5</text>
<line x1="55.80" y1="568.30" x2="58.80" y2="568.30" stroke="#111" stroke-width="1.1" />
<text transform="translate(50.80,571.25) scale(0.85,1)" x="0" y="0" font-size="8.3" text-anchor="end" font-weight="normal" font-style="normal" fill="#222" stroke="#222" stroke-width="0.166" >0</text>
<line x1="58.80" y1="568.30" x2="154.70" y2="568.30" stroke="#111" stroke-width="1.5" />
<line x1="74.30" y1="568.30" x2="74.30" y2="571.30" stroke="#111" stroke-width="1.1" />
<text transform="translate(74.30,582.95) scale(0.85,1)" x="0" y="0" font-size="8.3" text-anchor="middle" font-weight="normal" font-style="normal" fill="#222" stroke="#222" stroke-width="0.166" >2</text>
<line x1="106.00" y1="568.30" x2="106.00" y2="571.30" stroke="#111" stroke-width="1.1" />
<text transform="translate(106.00,582.95) scale(0.85,1)" x="0" y="0" font-size="8.3" text-anchor="middle" font-weight="normal" font-style="normal" fill="#222" stroke="#222" stroke-width="0.166" >3</text>
<line x1="137.90" y1="568.30" x2="137.90" y2="571.30" stroke="#111" stroke-width="1.1" />
<text transform="translate(137.90,582.95) scale(0.85,1)" x="0" y="0" font-size="8.3" text-anchor="middle" font-weight="normal" font-style="normal" fill="#222" stroke="#222" stroke-width="0.166" >4</text>
<text x="8.40" y="582.84" font-size="8.0" textLength="56.20" lengthAdjust="spacingAndGlyphs" font-weight="normal" font-style="normal" fill="#222" stroke="#222" stroke-width="0.160">Post PHZ (Days)</text>
<g transform="translate(35.84,527.60) rotate(-90)"><text x="0" y="0" font-size="9.4" text-anchor="middle" fill="#222" stroke="#222" stroke-width="0.188" textLength="56.80" lengthAdjust="spacingAndGlyphs">BasoE% in total</text></g>
<path d="M70.00,495.53 L72.10,499.31 L67.90,499.31 Z" fill="#2c4b82"/>
<circle cx="70.00" cy="509.00" r="2.1" fill="#bb1234"/>
<text x="75.60" y="500.57" font-size="7.8" textLength="14.40" lengthAdjust="spacingAndGlyphs" font-weight="normal" font-style="normal" fill="#222" stroke="#222" stroke-width="0.156">Se-A</text>
<text x="75.60" y="511.77" font-size="7.8" textLength="14.80" lengthAdjust="spacingAndGlyphs" font-weight="normal" font-style="normal" fill="#222" stroke="#222" stroke-width="0.156">Se-D</text>
<circle cx="66.50" cy="567.60" r="2.3" fill="#bb1234"/>
<circle cx="68.60" cy="567.60" r="2.3" fill="#bb1234"/>
<circle cx="70.60" cy="567.60" r="2.3" fill="#bb1234"/>
<circle cx="72.60" cy="567.60" r="2.3" fill="#bb1234"/>
<path d="M76.50,564.41 L78.90,568.73 L74.10,568.73 Z" fill="#2c4b82"/>
<path d="M78.80,564.41 L81.20,568.73 L76.40,568.73 Z" fill="#2c4b82"/>
<path d="M81.20,564.41 L83.60,568.73 L78.80,568.73 Z" fill="#2c4b82"/>
<line x1="70.00" y1="567.00" x2="70.00" y2="568.30" stroke="#bb1234" stroke-width="1.1" />
<line x1="68.00" y1="567.80" x2="72.00" y2="567.80" stroke="#bb1234" stroke-width="1.1" />
<line x1="68.67" y1="567.00" x2="71.33" y2="567.00" stroke="#bb1234" stroke-width="1.1" />
<line x1="68.67" y1="568.30" x2="71.33" y2="568.30" stroke="#bb1234" stroke-width="1.1" />
<circle cx="102.10" cy="553.50" r="2.3" fill="#bb1234"/>
<circle cx="102.10" cy="563.00" r="2.3" fill="#bb1234"/>
<circle cx="102.10" cy="565.00" r="2.3" fill="#bb1234"/>
<circle cx="102.10" cy="566.50" r="2.3" fill="#bb1234"/>
<line x1="102.10" y1="559.30" x2="102.10" y2="567.50" stroke="#bb1234" stroke-width="1.1" />
<line x1="100.00" y1="560.80" x2="104.20" y2="560.80" stroke="#bb1234" stroke-width="1.1" />
<line x1="100.70" y1="559.30" x2="103.50" y2="559.30" stroke="#bb1234" stroke-width="1.1" />
<line x1="100.70" y1="567.50" x2="103.50" y2="567.50" stroke="#bb1234" stroke-width="1.1" />
<path d="M110.40,542.41 L112.80,546.73 L108.00,546.73 Z" fill="#2c4b82"/>
<path d="M109.60,544.91 L112.00,549.23 L107.20,549.23 Z" fill="#2c4b82"/>
<path d="M111.00,548.21 L113.40,552.53 L108.60,552.53 Z" fill="#2c4b82"/>
<line x1="110.40" y1="546.50" x2="110.40" y2="549.80" stroke="#2c4b82" stroke-width="1.1" />
<line x1="108.65" y1="548.00" x2="112.15" y2="548.00" stroke="#2c4b82" stroke-width="1.1" />
<line x1="109.23" y1="546.50" x2="111.57" y2="546.50" stroke="#2c4b82" stroke-width="1.1" />
<line x1="109.23" y1="549.80" x2="111.57" y2="549.80" stroke="#2c4b82" stroke-width="1.1" />
<text transform="translate(110.80,536.53) scale(1.0,1)" x="0" y="0" font-size="6" text-anchor="middle" font-weight="normal" font-style="normal" fill="#555" stroke="#555" stroke-width="0.120" >*</text>
<circle cx="134.40" cy="513.00" r="2.3" fill="#bb1234"/>
<circle cx="134.40" cy="520.40" r="2.3" fill="#bb1234"/>
<circle cx="134.40" cy="557.30" r="2.3" fill="#bb1234"/>
<line x1="134.40" y1="516.50" x2="134.40" y2="544.40" stroke="#bb1234" stroke-width="1.1" />
<line x1="132.30" y1="530.40" x2="136.50" y2="530.40" stroke="#bb1234" stroke-width="1.1" />
<line x1="133.00" y1="516.50" x2="135.80" y2="516.50" stroke="#bb1234" stroke-width="1.1" />
<line x1="133.00" y1="544.40" x2="135.80" y2="544.40" stroke="#bb1234" stroke-width="1.1" />
<path d="M139.40,536.11 L141.80,540.43 L137.00,540.43 Z" fill="#2c4b82"/>
<path d="M142.50,535.11 L144.90,539.43 L140.10,539.43 Z" fill="#2c4b82"/>
<path d="M143.50,541.81 L145.90,546.13 L141.10,546.13 Z" fill="#2c4b82"/>
<path d="M142.50,559.11 L144.90,563.43 L140.10,563.43 Z" fill="#2c4b82"/>
<line x1="142.50" y1="541.50" x2="142.50" y2="551.20" stroke="#2c4b82" stroke-width="1.1" />
<line x1="140.75" y1="544.40" x2="144.25" y2="544.40" stroke="#2c4b82" stroke-width="1.1" />
<line x1="141.33" y1="541.50" x2="143.67" y2="541.50" stroke="#2c4b82" stroke-width="1.1" />
<line x1="141.33" y1="551.20" x2="143.67" y2="551.20" stroke="#2c4b82" stroke-width="1.1" />
<line x1="202.50" y1="488.50" x2="202.50" y2="568.10" stroke="#111" stroke-width="1.5" />
<line x1="199.50" y1="491.30" x2="202.50" y2="491.30" stroke="#111" stroke-width="1.1" />
<text transform="translate(196.20,494.25) scale(0.85,1)" x="0" y="0" font-size="8.3" text-anchor="end" font-weight="normal" font-style="normal" fill="#222" stroke="#222" stroke-width="0.166" >100</text>
<line x1="199.50" y1="506.80" x2="202.50" y2="506.80" stroke="#111" stroke-width="1.1" />
<text transform="translate(196.20,509.75) scale(0.85,1)" x="0" y="0" font-size="8.3" text-anchor="end" font-weight="normal" font-style="normal" fill="#222" stroke="#222" stroke-width="0.166" >80</text>
<line x1="199.50" y1="522.70" x2="202.50" y2="522.70" stroke="#111" stroke-width="1.1" />
<text transform="translate(196.20,525.65) scale(0.85,1)" x="0" y="0" font-size="8.3" text-anchor="end" font-weight="normal" font-style="normal" fill="#222" stroke="#222" stroke-width="0.166" >60</text>
<line x1="199.50" y1="537.90" x2="202.50" y2="537.90" stroke="#111" stroke-width="1.1" />
<text transform="translate(196.20,540.85) scale(0.85,1)" x="0" y="0" font-size="8.3" text-anchor="end" font-weight="normal" font-style="normal" fill="#222" stroke="#222" stroke-width="0.166" >40</text>
<line x1="199.50" y1="553.10" x2="202.50" y2="553.10" stroke="#111" stroke-width="1.1" />
<text transform="translate(196.20,556.05) scale(0.85,1)" x="0" y="0" font-size="8.3" text-anchor="end" font-weight="normal" font-style="normal" fill="#222" stroke="#222" stroke-width="0.166" >20</text>
<line x1="199.50" y1="568.10" x2="202.50" y2="568.10" stroke="#111" stroke-width="1.1" />
<text transform="translate(196.20,571.05) scale(0.85,1)" x="0" y="0" font-size="8.3" text-anchor="end" font-weight="normal" font-style="normal" fill="#222" stroke="#222" stroke-width="0.166" >0</text>
<line x1="202.50" y1="568.10" x2="299.00" y2="568.10" stroke="#111" stroke-width="1.5" />
<line x1="218.60" y1="568.10" x2="218.60" y2="571.10" stroke="#111" stroke-width="1.1" />
<text transform="translate(218.60,583.15) scale(0.85,1)" x="0" y="0" font-size="8.3" text-anchor="middle" font-weight="normal" font-style="normal" fill="#222" stroke="#222" stroke-width="0.166" >2</text>
<line x1="250.30" y1="568.10" x2="250.30" y2="571.10" stroke="#111" stroke-width="1.1" />
<text transform="translate(250.30,583.15) scale(0.85,1)" x="0" y="0" font-size="8.3" text-anchor="middle" font-weight="normal" font-style="normal" fill="#222" stroke="#222" stroke-width="0.166" >3</text>
<line x1="282.10" y1="568.10" x2="282.10" y2="571.10" stroke="#111" stroke-width="1.1" />
<text transform="translate(282.10,583.15) scale(0.85,1)" x="0" y="0" font-size="8.3" text-anchor="middle" font-weight="normal" font-style="normal" fill="#222" stroke="#222" stroke-width="0.166" >4</text>
<g transform="translate(175.14,524.75) rotate(-90)"><text x="0" y="0" font-size="9.4" text-anchor="middle" fill="#222" stroke="#222" stroke-width="0.188" textLength="61.50" lengthAdjust="spacingAndGlyphs">BasoEs (×10<tspan dy="-2.6" font-size="6">4</tspan><tspan dy="2.6">)</tspan></text></g>
<path d="M214.80,495.83 L216.90,499.61 L212.70,499.61 Z" fill="#2c4b82"/>
<circle cx="214.80" cy="508.90" r="2.1" fill="#bb1234"/>
<text x="220.40" y="500.87" font-size="7.8" textLength="14.40" lengthAdjust="spacingAndGlyphs" font-weight="normal" font-style="normal" fill="#222" stroke="#222" stroke-width="0.156">Se-A</text>
<text x="220.40" y="511.67" font-size="7.8" textLength="14.80" lengthAdjust="spacingAndGlyphs" font-weight="normal" font-style="normal" fill="#222" stroke="#222" stroke-width="0.156">Se-D</text>
<circle cx="211.00" cy="567.80" r="2.3" fill="#bb1234"/>
<circle cx="213.20" cy="567.80" r="2.3" fill="#bb1234"/>
<circle cx="215.40" cy="567.80" r="2.3" fill="#bb1234"/>
<circle cx="217.50" cy="567.80" r="2.3" fill="#bb1234"/>
<path d="M221.00,564.41 L223.40,568.73 L218.60,568.73 Z" fill="#2c4b82"/>
<path d="M223.50,564.41 L225.90,568.73 L221.10,568.73 Z" fill="#2c4b82"/>
<path d="M226.00,564.41 L228.40,568.73 L223.60,568.73 Z" fill="#2c4b82"/>
<circle cx="243.40" cy="566.40" r="2.3" fill="#bb1234"/>
<circle cx="246.10" cy="567.00" r="2.3" fill="#bb1234"/>
<circle cx="249.70" cy="563.70" r="2.3" fill="#bb1234"/>
<path d="M254.60,538.41 L257.00,542.73 L252.20,542.73 Z" fill="#2c4b82"/>
<path d="M251.80,549.71 L254.20,554.03 L249.40,554.03 Z" fill="#2c4b82"/>
<path d="M256.00,550.11 L258.40,554.43 L253.60,554.43 Z" fill="#2c4b82"/>
<path d="M254.60,556.91 L257.00,561.23 L252.20,561.23 Z" fill="#2c4b82"/>
<line x1="254.60" y1="546.80" x2="254.60" y2="556.00" stroke="#2c4b82" stroke-width="1.1" />
<line x1="252.85" y1="550.50" x2="256.35" y2="550.50" stroke="#2c4b82" stroke-width="1.1" />
<line x1="253.43" y1="546.80" x2="255.77" y2="546.80" stroke="#2c4b82" stroke-width="1.1" />
<line x1="253.43" y1="556.00" x2="255.77" y2="556.00" stroke="#2c4b82" stroke-width="1.1" />
<text transform="translate(254.60,532.73) scale(1.0,1)" x="0" y="0" font-size="6" text-anchor="middle" font-weight="normal" font-style="normal" fill="#555" stroke="#555" stroke-width="0.120" >*</text>
<circle cx="278.70" cy="504.50" r="2.3" fill="#bb1234"/>
<circle cx="278.70" cy="514.20" r="2.3" fill="#bb1234"/>
<circle cx="278.70" cy="546.80" r="2.3" fill="#bb1234"/>
<line x1="278.70" y1="509.30" x2="278.70" y2="534.70" stroke="#bb1234" stroke-width="1.1" />
<line x1="276.60" y1="522.00" x2="280.80" y2="522.00" stroke="#bb1234" stroke-width="1.1" />
<line x1="277.30" y1="509.30" x2="280.10" y2="509.30" stroke="#bb1234" stroke-width="1.1" />
<line x1="277.30" y1="534.70" x2="280.10" y2="534.70" stroke="#bb1234" stroke-width="1.1" />
<path d="M286.30,549.71 L288.70,554.03 L283.90,554.03 Z" fill="#2c4b82"/>
<path d="M286.30,554.41 L288.70,558.73 L283.90,558.73 Z" fill="#2c4b82"/>
<path d="M286.30,561.71 L288.70,566.03 L283.90,566.03 Z" fill="#2c4b82"/>
<line x1="286.30" y1="554.50" x2="286.30" y2="560.50" stroke="#2c4b82" stroke-width="1.1" />
<line x1="284.55" y1="557.00" x2="288.05" y2="557.00" stroke="#2c4b82" stroke-width="1.1" />
<line x1="285.13" y1="554.50" x2="287.47" y2="554.50" stroke="#2c4b82" stroke-width="1.1" />
<line x1="285.13" y1="560.50" x2="287.47" y2="560.50" stroke="#2c4b82" stroke-width="1.1" />
<text transform="translate(278.50,499.73) scale(1.0,1)" x="0" y="0" font-size="6" text-anchor="middle" font-weight="normal" font-style="normal" fill="#555" stroke="#555" stroke-width="0.120" >***</text>
<text transform="translate(10.90,614.63) scale(0.95,1)" x="0" y="0" font-size="13.6" text-anchor="start" font-weight="bold" font-style="normal" fill="#111" stroke="#111" stroke-width="0.200" >D</text>
<line x1="58.80" y1="624.80" x2="58.80" y2="703.70" stroke="#111" stroke-width="1.5" />
<line x1="55.80" y1="627.70" x2="58.80" y2="627.70" stroke="#111" stroke-width="1.1" />
<text transform="translate(50.80,630.65) scale(0.85,1)" x="0" y="0" font-size="8.3" text-anchor="end" font-weight="normal" font-style="normal" fill="#222" stroke="#222" stroke-width="0.166" >5</text>
<line x1="55.80" y1="643.50" x2="58.80" y2="643.50" stroke="#111" stroke-width="1.1" />
<text transform="translate(50.80,646.45) scale(0.85,1)" x="0" y="0" font-size="8.3" text-anchor="end" font-weight="normal" font-style="normal" fill="#222" stroke="#222" stroke-width="0.166" >4</text>
<line x1="55.80" y1="658.50" x2="58.80" y2="658.50" stroke="#111" stroke-width="1.1" />
<text transform="translate(50.80,661.45) scale(0.85,1)" x="0" y="0" font-size="8.3" text-anchor="end" font-weight="normal" font-style="normal" fill="#222" stroke="#222" stroke-width="0.166" >3</text>
<line x1="55.80" y1="673.80" x2="58.80" y2="673.80" stroke="#111" stroke-width="1.1" />
<text transform="translate(50.80,676.75) scale(0.85,1)" x="0" y="0" font-size="8.3" text-anchor="end" font-weight="normal" font-style="normal" fill="#222" stroke="#222" stroke-width="0.166" >2</text>
<line x1="55.80" y1="688.80" x2="58.80" y2="688.80" stroke="#111" stroke-width="1.1" />
<text transform="translate(50.80,691.75) scale(0.85,1)" x="0" y="0" font-size="8.3" text-anchor="end" font-weight="normal" font-style="normal" fill="#222" stroke="#222" stroke-width="0.166" >1</text>
<line x1="55.80" y1="703.70" x2="58.80" y2="703.70" stroke="#111" stroke-width="1.1" />
<text transform="translate(50.80,706.65) scale(0.85,1)" x="0" y="0" font-size="8.3" text-anchor="end" font-weight="normal" font-style="normal" fill="#222" stroke="#222" stroke-width="0.166" >0</text>
<line x1="58.80" y1="703.70" x2="153.80" y2="703.70" stroke="#111" stroke-width="1.5" />
<line x1="74.20" y1="703.70" x2="74.20" y2="706.70" stroke="#111" stroke-width="1.1" />
<text transform="translate(74.20,718.55) scale(0.85,1)" x="0" y="0" font-size="8.3" text-anchor="middle" font-weight="normal" font-style="normal" fill="#222" stroke="#222" stroke-width="0.166" >2</text>
<line x1="106.00" y1="703.70" x2="106.00" y2="706.70" stroke="#111" stroke-width="1.1" />
<text transform="translate(106.00,718.55) scale(0.85,1)" x="0" y="0" font-size="8.3" text-anchor="middle" font-weight="normal" font-style="normal" fill="#222" stroke="#222" stroke-width="0.166" >3</text>
<line x1="138.40" y1="703.70" x2="138.40" y2="706.70" stroke="#111" stroke-width="1.1" />
<text transform="translate(138.40,718.55) scale(0.85,1)" x="0" y="0" font-size="8.3" text-anchor="middle" font-weight="normal" font-style="normal" fill="#222" stroke="#222" stroke-width="0.166" >4</text>
<text x="8.40" y="718.64" font-size="8.0" textLength="56.20" lengthAdjust="spacingAndGlyphs" font-weight="normal" font-style="normal" fill="#222" stroke="#222" stroke-width="0.160">Post PHZ (Days)</text>
<g transform="translate(40.54,664.20) rotate(-90)"><text x="0" y="0" font-size="9.4" text-anchor="middle" fill="#222" stroke="#222" stroke-width="0.188" textLength="49.20" lengthAdjust="spacingAndGlyphs">ProE% in total</text></g>
<path d="M69.60,636.43 L71.70,640.21 L67.50,640.21 Z" fill="#2c4b82"/>
<circle cx="69.60" cy="649.20" r="2.1" fill="#bb1234"/>
<text x="75.20" y="641.47" font-size="7.8" textLength="14.40" lengthAdjust="spacingAndGlyphs" font-weight="normal" font-style="normal" fill="#222" stroke="#222" stroke-width="0.156">Se-A</text>
<text x="75.20" y="651.97" font-size="7.8" textLength="14.80" lengthAdjust="spacingAndGlyphs" font-weight="normal" font-style="normal" fill="#222" stroke="#222" stroke-width="0.156">Se-D</text>
<circle cx="66.00" cy="703.20" r="2.3" fill="#bb1234"/>
<circle cx="68.20" cy="703.20" r="2.3" fill="#bb1234"/>
<circle cx="70.40" cy="703.20" r="2.3" fill="#bb1234"/>
<circle cx="72.60" cy="703.20" r="2.3" fill="#bb1234"/>
<path d="M79.00,693.41 L81.40,697.73 L76.60,697.73 Z" fill="#2c4b82"/>
<path d="M79.00,697.41 L81.40,701.73 L76.60,701.73 Z" fill="#2c4b82"/>
<path d="M79.00,699.11 L81.40,703.43 L76.60,703.43 Z" fill="#2c4b82"/>
<line x1="79.00" y1="697.00" x2="79.00" y2="702.50" stroke="#2c4b82" stroke-width="1.1" />
<line x1="77.25" y1="700.00" x2="80.75" y2="700.00" stroke="#2c4b82" stroke-width="1.1" />
<line x1="77.83" y1="697.00" x2="80.17" y2="697.00" stroke="#2c4b82" stroke-width="1.1" />
<line x1="77.83" y1="702.50" x2="80.17" y2="702.50" stroke="#2c4b82" stroke-width="1.1" />
<circle cx="102.10" cy="688.30" r="2.3" fill="#bb1234"/>
<circle cx="102.10" cy="693.00" r="2.3" fill="#bb1234"/>
<circle cx="102.10" cy="696.00" r="2.3" fill="#bb1234"/>
<circle cx="102.10" cy="698.80" r="2.3" fill="#bb1234"/>
<line x1="102.10" y1="691.00" x2="102.10" y2="697.00" stroke="#bb1234" stroke-width="1.1" />
<line x1="100.00" y1="694.00" x2="104.20" y2="694.00" stroke="#bb1234" stroke-width="1.1" />
<line x1="100.70" y1="691.00" x2="103.50" y2="691.00" stroke="#bb1234" stroke-width="1.1" />
<line x1="100.70" y1="697.00" x2="103.50" y2="697.00" stroke="#bb1234" stroke-width="1.1" />
<path d="M109.00,696.61 L111.40,700.93 L106.60,700.93 Z" fill="#2c4b82"/>
<path d="M111.80,696.61 L114.20,700.93 L109.40,700.93 Z" fill="#2c4b82"/>
<path d="M114.60,696.61 L117.00,700.93 L112.20,700.93 Z" fill="#2c4b82"/>
<circle cx="133.80" cy="637.70" r="2.3" fill="#bb1234"/>
<circle cx="133.80" cy="661.00" r="2.3" fill="#bb1234"/>
<circle cx="133.80" cy="669.60" r="2.3" fill="#bb1234"/>
<line x1="133.80" y1="647.00" x2="133.80" y2="665.20" stroke="#bb1234" stroke-width="1.1" />
<line x1="131.70" y1="656.20" x2="135.90" y2="656.20" stroke="#bb1234" stroke-width="1.1" />
<line x1="132.40" y1="647.00" x2="135.20" y2="647.00" stroke="#bb1234" stroke-width="1.1" />
<line x1="132.40" y1="665.20" x2="135.20" y2="665.20" stroke="#bb1234" stroke-width="1.1" />
<text transform="translate(133.80,630.73) scale(1.0,1)" x="0" y="0" font-size="6" text-anchor="middle" font-weight="normal" font-style="normal" fill="#555" stroke="#555" stroke-width="0.120" >*</text>
<path d="M143.00,672.81 L145.40,677.13 L140.60,677.13 Z" fill="#2c4b82"/>
<path d="M143.00,689.41 L145.40,693.73 L140.60,693.73 Z" fill="#2c4b82"/>
<path d="M143.00,693.41 L145.40,697.73 L140.60,697.73 Z" fill="#2c4b82"/>
<line x1="143.00" y1="683.50" x2="143.00" y2="694.00" stroke="#2c4b82" stroke-width="1.1" />
<line x1="141.25" y1="688.30" x2="144.75" y2="688.30" stroke="#2c4b82" stroke-width="1.1" />
<line x1="141.83" y1="683.50" x2="144.17" y2="683.50" stroke="#2c4b82" stroke-width="1.1" />
<line x1="141.83" y1="694.00" x2="144.17" y2="694.00" stroke="#2c4b82" stroke-width="1.1" />
<line x1="198.90" y1="629.50" x2="198.90" y2="650.70" stroke="#111" stroke-width="1.3" />
<line x1="196.00" y1="650.70" x2="202.70" y2="650.70" stroke="#111" stroke-width="1.0" />
<line x1="196.00" y1="634.40" x2="198.90" y2="634.40" stroke="#111" stroke-width="1.0" />
<text transform="translate(191.50,637.35) scale(0.85,1)" x="0" y="0" font-size="8.3" text-anchor="end" font-weight="normal" font-style="normal" fill="#222" stroke="#222" stroke-width="0.166" >30</text>
<line x1="196.00" y1="642.80" x2="198.90" y2="642.80" stroke="#111" stroke-width="1.0" />
<text transform="translate(191.50,645.75) scale(0.85,1)" x="0" y="0" font-size="8.3" text-anchor="end" font-weight="normal" font-style="normal" fill="#222" stroke="#222" stroke-width="0.166" >20</text>
<line x1="198.90" y1="657.70" x2="198.90" y2="704.20" stroke="#111" stroke-width="1.3" />
<line x1="196.00" y1="657.70" x2="202.70" y2="657.70" stroke="#111" stroke-width="1.0" />
<line x1="196.00" y1="657.70" x2="198.90" y2="657.70" stroke="#111" stroke-width="1.0" />
<text transform="translate(191.50,660.65) scale(0.85,1)" x="0" y="0" font-size="8.3" text-anchor="end" font-weight="normal" font-style="normal" fill="#222" stroke="#222" stroke-width="0.166" >6</text>
<line x1="196.00" y1="672.90" x2="198.90" y2="672.90" stroke="#111" stroke-width="1.0" />
<text transform="translate(191.50,675.85) scale(0.85,1)" x="0" y="0" font-size="8.3" text-anchor="end" font-weight="normal" font-style="normal" fill="#222" stroke="#222" stroke-width="0.166" >4</text>
<line x1="196.00" y1="688.80" x2="198.90" y2="688.80" stroke="#111" stroke-width="1.0" />
<text transform="translate(191.50,691.75) scale(0.85,1)" x="0" y="0" font-size="8.3" text-anchor="end" font-weight="normal" font-style="normal" fill="#222" stroke="#222" stroke-width="0.166" >2</text>
<line x1="196.00" y1="704.20" x2="198.90" y2="704.20" stroke="#111" stroke-width="1.0" />
<text transform="translate(191.50,707.15) scale(0.85,1)" x="0" y="0" font-size="8.3" text-anchor="end" font-weight="normal" font-style="normal" fill="#222" stroke="#222" stroke-width="0.166" >0</text>
<line x1="198.90" y1="704.20" x2="294.70" y2="704.20" stroke="#111" stroke-width="1.5" />
<line x1="214.30" y1="704.20" x2="214.30" y2="707.20" stroke="#111" stroke-width="1.1" />
<text transform="translate(214.30,719.25) scale(0.85,1)" x="0" y="0" font-size="8.3" text-anchor="middle" font-weight="normal" font-style="normal" fill="#222" stroke="#222" stroke-width="0.166" >2</text>
<line x1="246.00" y1="704.20" x2="246.00" y2="707.20" stroke="#111" stroke-width="1.1" />
<text transform="translate(246.00,719.25) scale(0.85,1)" x="0" y="0" font-size="8.3" text-anchor="middle" font-weight="normal" font-style="normal" fill="#222" stroke="#222" stroke-width="0.166" >3</text>
<line x1="277.80" y1="704.20" x2="277.80" y2="707.20" stroke="#111" stroke-width="1.1" />
<text transform="translate(277.80,719.25) scale(0.85,1)" x="0" y="0" font-size="8.3" text-anchor="middle" font-weight="normal" font-style="normal" fill="#222" stroke="#222" stroke-width="0.166" >4</text>
<g transform="translate(175.34,667.25) rotate(-90)"><text x="0" y="0" font-size="9.4" text-anchor="middle" fill="#222" stroke="#222" stroke-width="0.188" textLength="46.50" lengthAdjust="spacingAndGlyphs">ProEs (×10<tspan dy="-2.6" font-size="6">4</tspan><tspan dy="2.6">)</tspan></text></g>
<path d="M215.00,635.73 L217.10,639.51 L212.90,639.51 Z" fill="#2c4b82"/>
<circle cx="215.00" cy="648.60" r="2.1" fill="#bb1234"/>
<text x="220.60" y="640.77" font-size="7.8" textLength="14.40" lengthAdjust="spacingAndGlyphs" font-weight="normal" font-style="normal" fill="#222" stroke="#222" stroke-width="0.156">Se-A</text>
<text x="220.60" y="651.37" font-size="7.8" textLength="14.80" lengthAdjust="spacingAndGlyphs" font-weight="normal" font-style="normal" fill="#222" stroke="#222" stroke-width="0.156">Se-D</text>
<circle cx="207.00" cy="703.10" r="2.3" fill="#bb1234"/>
<circle cx="209.40" cy="703.10" r="2.3" fill="#bb1234"/>
<circle cx="211.80" cy="703.10" r="2.3" fill="#bb1234"/>
<circle cx="214.30" cy="703.10" r="2.3" fill="#bb1234"/>
<path d="M218.60,680.41 L221.00,684.73 L216.20,684.73 Z" fill="#2c4b82"/>
<path d="M218.60,697.41 L221.00,701.73 L216.20,701.73 Z" fill="#2c4b82"/>
<path d="M218.60,699.91 L221.00,704.23 L216.20,704.23 Z" fill="#2c4b82"/>
<line x1="218.60" y1="690.90" x2="218.60" y2="701.40" stroke="#2c4b82" stroke-width="1.1" />
<line x1="216.85" y1="696.20" x2="220.35" y2="696.20" stroke="#2c4b82" stroke-width="1.1" />
<line x1="217.43" y1="690.90" x2="219.77" y2="690.90" stroke="#2c4b82" stroke-width="1.1" />
<line x1="217.43" y1="701.40" x2="219.77" y2="701.40" stroke="#2c4b82" stroke-width="1.1" />
<circle cx="242.50" cy="690.90" r="2.3" fill="#bb1234"/>
<circle cx="242.50" cy="695.00" r="2.3" fill="#bb1234"/>
<circle cx="242.50" cy="699.30" r="2.3" fill="#bb1234"/>
<line x1="242.50" y1="692.50" x2="242.50" y2="697.50" stroke="#bb1234" stroke-width="1.1" />
<line x1="240.75" y1="695.00" x2="244.25" y2="695.00" stroke="#bb1234" stroke-width="1.1" />
<line x1="241.33" y1="692.50" x2="243.67" y2="692.50" stroke="#bb1234" stroke-width="1.1" />
<line x1="241.33" y1="697.50" x2="243.67" y2="697.50" stroke="#bb1234" stroke-width="1.1" />
<path d="M250.30,689.41 L252.70,693.73 L247.90,693.73 Z" fill="#2c4b82"/>
<path d="M250.30,693.61 L252.70,697.93 L247.90,697.93 Z" fill="#2c4b82"/>
<path d="M250.30,697.41 L252.70,701.73 L247.90,701.73 Z" fill="#2c4b82"/>
<circle cx="271.40" cy="635.90" r="2.3" fill="#bb1234"/>
<circle cx="275.70" cy="638.00" r="2.3" fill="#bb1234"/>
<circle cx="274.60" cy="649.20" r="2.3" fill="#bb1234"/>
<line x1="274.60" y1="638.00" x2="274.60" y2="644.30" stroke="#bb1234" stroke-width="1.1" />
<line x1="272.85" y1="640.70" x2="276.35" y2="640.70" stroke="#bb1234" stroke-width="1.1" />
<line x1="273.43" y1="638.00" x2="275.77" y2="638.00" stroke="#bb1234" stroke-width="1.1" />
<line x1="273.43" y1="644.30" x2="275.77" y2="644.30" stroke="#bb1234" stroke-width="1.1" />
<text transform="translate(274.60,633.13) scale(1.0,1)" x="0" y="0" font-size="6" text-anchor="middle" font-weight="normal" font-style="normal" fill="#555" stroke="#555" stroke-width="0.120" >****</text>
<path d="M282.00,661.81 L284.40,666.13 L279.60,666.13 Z" fill="#2c4b82"/>
<path d="M278.90,684.71 L281.30,689.03 L276.50,689.03 Z" fill="#2c4b82"/>
<path d="M283.00,685.11 L285.40,689.43 L280.60,689.43 Z" fill="#2c4b82"/>
<path d="M282.00,692.41 L284.40,696.73 L279.60,696.73 Z" fill="#2c4b82"/>
<line x1="282.00" y1="676.70" x2="282.00" y2="687.70" stroke="#2c4b82" stroke-width="1.1" />
<line x1="280.00" y1="683.00" x2="284.00" y2="683.00" stroke="#2c4b82" stroke-width="1.1" />
<line x1="280.67" y1="676.70" x2="283.33" y2="676.70" stroke="#2c4b82" stroke-width="1.1" />
<line x1="280.67" y1="687.70" x2="283.33" y2="687.70" stroke="#2c4b82" stroke-width="1.1" />
<text transform="translate(323.50,484.87) scale(0.96,1)" x="0" y="0" font-size="14.0" text-anchor="start" font-weight="bold" font-style="normal" fill="#111" stroke="#111" stroke-width="0.200" >G</text>
<line x1="354.30" y1="489.50" x2="354.30" y2="568.00" stroke="#111" stroke-width="1.5" />
<line x1="351.30" y1="492.00" x2="354.30" y2="492.00" stroke="#111" stroke-width="1.1" />
<text transform="translate(346.30,494.95) scale(0.85,1)" x="0" y="0" font-size="8.3" text-anchor="end" font-weight="normal" font-style="normal" fill="#222" stroke="#222" stroke-width="0.166" >8</text>
<line x1="351.30" y1="511.00" x2="354.30" y2="511.00" stroke="#111" stroke-width="1.1" />
<text transform="translate(346.30,513.95) scale(0.85,1)" x="0" y="0" font-size="8.3" text-anchor="end" font-weight="normal" font-style="normal" fill="#222" stroke="#222" stroke-width="0.166" >6</text>
<line x1="351.30" y1="530.00" x2="354.30" y2="530.00" stroke="#111" stroke-width="1.1" />
<text transform="translate(346.30,532.95) scale(0.85,1)" x="0" y="0" font-size="8.3" text-anchor="end" font-weight="normal" font-style="normal" fill="#222" stroke="#222" stroke-width="0.166" >4</text>
<line x1="351.30" y1="549.20" x2="354.30" y2="549.20" stroke="#111" stroke-width="1.1" />
<text transform="translate(346.30,552.15) scale(0.85,1)" x="0" y="0" font-size="8.3" text-anchor="end" font-weight="normal" font-style="normal" fill="#222" stroke="#222" stroke-width="0.166" >2</text>
<line x1="351.30" y1="568.00" x2="354.30" y2="568.00" stroke="#111" stroke-width="1.1" />
<text transform="translate(346.30,570.95) scale(0.85,1)" x="0" y="0" font-size="8.3" text-anchor="end" font-weight="normal" font-style="normal" fill="#222" stroke="#222" stroke-width="0.166" >0</text>
<line x1="354.30" y1="568.00" x2="431.80" y2="568.00" stroke="#111" stroke-width="1.5" />
<line x1="372.80" y1="568.00" x2="372.80" y2="571.00" stroke="#111" stroke-width="1.1" />
<text transform="translate(372.80,582.65) scale(0.85,1)" x="0" y="0" font-size="8.3" text-anchor="middle" font-weight="normal" font-style="normal" fill="#222" stroke="#222" stroke-width="0.166" >8</text>
<line x1="411.00" y1="568.00" x2="411.00" y2="571.00" stroke="#111" stroke-width="1.1" />
<text transform="translate(411.00,582.65) scale(0.85,1)" x="0" y="0" font-size="8.3" text-anchor="middle" font-weight="normal" font-style="normal" fill="#222" stroke="#222" stroke-width="0.166" >10</text>
<g transform="translate(334.54,527.50) rotate(-90)"><text x="0" y="0" font-size="9.4" text-anchor="middle" fill="#222" stroke="#222" stroke-width="0.188" textLength="74.00" lengthAdjust="spacingAndGlyphs">Spleen ProE ( ×10<tspan dy="-2.6" font-size="6">6</tspan><tspan dy="2.6">)</tspan></text></g>
<rect x="375.30" y="557.20" width="10.90" height="10.80" fill="#2c4b82"/>
<line x1="380.75" y1="552.00" x2="380.75" y2="557.20" stroke="#2c4b82" stroke-width="1.0" />
<line x1="379.00" y1="552.00" x2="382.50" y2="552.00" stroke="#2c4b82" stroke-width="1.0" />
<rect x="413.20" y="523.00" width="11.00" height="45.00" fill="#2c4b82"/>
<line x1="418.70" y1="514.30" x2="418.70" y2="523.00" stroke="#2c4b82" stroke-width="1.0" />
<line x1="416.90" y1="514.30" x2="420.50" y2="514.30" stroke="#2c4b82" stroke-width="1.0" />
<rect x="362.80" y="565.90" width="3.4" height="3.4" fill="#72ad58"/>
<rect x="365.80" y="565.90" width="3.4" height="3.4" fill="#72ad58"/>
<rect x="378.70" y="542.10" width="3.4" height="3.4" fill="#72ad58"/>
<rect x="376.30" y="563.30" width="3.4" height="3.4" fill="#72ad58"/>
<rect x="380.30" y="559.30" width="3.4" height="3.4" fill="#72ad58"/>
<rect x="382.80" y="561.80" width="3.4" height="3.4" fill="#72ad58"/>
<rect x="400.80" y="565.90" width="3.4" height="3.4" fill="#72ad58"/>
<rect x="403.80" y="565.90" width="3.4" height="3.4" fill="#72ad58"/>
<rect x="418.80" y="496.30" width="3.4" height="3.4" fill="#72ad58"/>
<rect x="416.10" y="527.30" width="3.4" height="3.4" fill="#72ad58"/>
<rect x="419.30" y="530.30" width="3.4" height="3.4" fill="#72ad58"/>
<rect x="417.50" y="535.30" width="3.4" height="3.4" fill="#72ad58"/>
<line x1="405.00" y1="493.20" x2="418.50" y2="493.20" stroke="#222" stroke-width="1.5" />
<text transform="translate(411.80,493.09) scale(1.0,1)" x="0" y="0" font-size="7" text-anchor="middle" font-weight="normal" font-style="normal" fill="#333" stroke="#333" stroke-width="0.140" >****</text>
<rect x="437.00" y="489.00" width="9.80" height="8.20" fill="#bb1234"/>
<rect x="437.00" y="499.30" width="9.80" height="7.70" fill="#2c4b82"/>
<text transform="translate(451.30,495.83) scale(0.8,1)" font-size="7.4" font-style="italic" fill="#333" stroke="#333" stroke-width="0.15">Trsp<tspan font-size="5.92" dy="-2.96" dx="1.6" letter-spacing="0.4" stroke-width="0.05">Δ/Δ</tspan></text>
<text transform="translate(451.30,506.03) scale(0.8,1)" font-size="7.4" font-style="italic" fill="#333" stroke="#333" stroke-width="0.15">Trsp<tspan font-size="5.92" dy="-2.96" dx="1.6" letter-spacing="0.4" stroke-width="0.05">fl/Δ</tspan></text>
<text transform="translate(323.50,615.28) scale(0.95,1)" x="0" y="0" font-size="14.3" text-anchor="start" font-weight="bold" font-style="normal" fill="#111" stroke="#111" stroke-width="0.200" >H</text>
<line x1="353.80" y1="624.00" x2="353.80" y2="704.20" stroke="#111" stroke-width="1.5" />
<line x1="350.80" y1="627.00" x2="353.80" y2="627.00" stroke="#111" stroke-width="1.1" />
<text transform="translate(345.80,629.95) scale(0.85,1)" x="0" y="0" font-size="8.3" text-anchor="end" font-weight="normal" font-style="normal" fill="#222" stroke="#222" stroke-width="0.166" >50</text>
<line x1="350.80" y1="643.00" x2="353.80" y2="643.00" stroke="#111" stroke-width="1.1" />
<text transform="translate(345.80,645.95) scale(0.85,1)" x="0" y="0" font-size="8.3" text-anchor="end" font-weight="normal" font-style="normal" fill="#222" stroke="#222" stroke-width="0.166" >40</text>
<line x1="350.80" y1="658.50" x2="353.80" y2="658.50" stroke="#111" stroke-width="1.1" />
<text transform="translate(345.80,661.45) scale(0.85,1)" x="0" y="0" font-size="8.3" text-anchor="end" font-weight="normal" font-style="normal" fill="#222" stroke="#222" stroke-width="0.166" >30</text>
<line x1="350.80" y1="673.50" x2="353.80" y2="673.50" stroke="#111" stroke-width="1.1" />
<text transform="translate(345.80,676.45) scale(0.85,1)" x="0" y="0" font-size="8.3" text-anchor="end" font-weight="normal" font-style="normal" fill="#222" stroke="#222" stroke-width="0.166" >20</text>
<line x1="350.80" y1="688.80" x2="353.80" y2="688.80" stroke="#111" stroke-width="1.1" />
<text transform="translate(345.80,691.75) scale(0.85,1)" x="0" y="0" font-size="8.3" text-anchor="end" font-weight="normal" font-style="normal" fill="#222" stroke="#222" stroke-width="0.166" >10</text>
<line x1="350.80" y1="704.20" x2="353.80" y2="704.20" stroke="#111" stroke-width="1.1" />
<text transform="translate(345.80,707.15) scale(0.85,1)" x="0" y="0" font-size="8.3" text-anchor="end" font-weight="normal" font-style="normal" fill="#222" stroke="#222" stroke-width="0.166" >0</text>
<line x1="353.80" y1="704.20" x2="430.50" y2="704.20" stroke="#111" stroke-width="1.5" />
<line x1="372.30" y1="704.20" x2="372.30" y2="707.20" stroke="#111" stroke-width="1.1" />
<text transform="translate(372.30,718.75) scale(0.85,1)" x="0" y="0" font-size="8.3" text-anchor="middle" font-weight="normal" font-style="normal" fill="#222" stroke="#222" stroke-width="0.166" >8</text>
<line x1="411.50" y1="704.20" x2="411.50" y2="707.20" stroke="#111" stroke-width="1.1" />
<text transform="translate(411.50,718.75) scale(0.85,1)" x="0" y="0" font-size="8.3" text-anchor="middle" font-weight="normal" font-style="normal" fill="#222" stroke="#222" stroke-width="0.166" >10</text>
<g transform="translate(330.84,663.80) rotate(-90)"><text x="0" y="0" font-size="9.4" text-anchor="middle" fill="#222" stroke="#222" stroke-width="0.188" textLength="78.40" lengthAdjust="spacingAndGlyphs">Spleen BasoE ( ×10<tspan dy="-2.6" font-size="6">6</tspan><tspan dy="2.6">)</tspan></text></g>
<rect x="374.60" y="690.00" width="11.10" height="14.20" fill="#2c4b82"/>
<line x1="380.10" y1="684.60" x2="380.10" y2="690.00" stroke="#2c4b82" stroke-width="1.0" />
<line x1="378.30" y1="684.60" x2="381.90" y2="684.60" stroke="#2c4b82" stroke-width="1.0" />
<rect x="412.70" y="649.50" width="11.10" height="54.70" fill="#2c4b82"/>
<line x1="418.20" y1="640.80" x2="418.20" y2="649.50" stroke="#2c4b82" stroke-width="1.0" />
<line x1="416.40" y1="640.80" x2="420.00" y2="640.80" stroke="#2c4b82" stroke-width="1.0" />
<rect x="362.30" y="702.10" width="3.4" height="3.4" fill="#72ad58"/>
<rect x="365.30" y="702.10" width="3.4" height="3.4" fill="#72ad58"/>
<rect x="378.00" y="673.00" width="3.4" height="3.4" fill="#72ad58"/>
<rect x="378.30" y="686.30" width="3.4" height="3.4" fill="#72ad58"/>
<rect x="375.50" y="697.30" width="3.4" height="3.4" fill="#72ad58"/>
<rect x="381.30" y="698.30" width="3.4" height="3.4" fill="#72ad58"/>
<rect x="399.80" y="702.10" width="3.4" height="3.4" fill="#72ad58"/>
<rect x="402.80" y="702.10" width="3.4" height="3.4" fill="#72ad58"/>
<rect x="416.30" y="626.30" width="3.4" height="3.4" fill="#72ad58"/>
<rect x="416.80" y="643.00" width="3.4" height="3.4" fill="#72ad58"/>
<rect x="416.30" y="655.30" width="3.4" height="3.4" fill="#72ad58"/>
<rect x="416.30" y="669.80" width="3.4" height="3.4" fill="#72ad58"/>
<line x1="404.00" y1="623.70" x2="418.00" y2="623.70" stroke="#222" stroke-width="1.5" />
<text transform="translate(411.20,623.49) scale(1.0,1)" x="0" y="0" font-size="7" text-anchor="middle" font-weight="normal" font-style="normal" fill="#333" stroke="#333" stroke-width="0.140" >****</text>
<text x="366.50" y="732.55" font-size="8.6" textLength="53.00" lengthAdjust="spacingAndGlyphs" font-weight="normal" font-style="normal" fill="#222" stroke="#222" stroke-width="0.172">Days post BMT</text>
<rect x="436.60" y="625.00" width="9.40" height="8.30" fill="#bb1234"/>
<rect x="436.60" y="635.00" width="9.40" height="8.30" fill="#2c4b82"/>
<text transform="translate(451.00,632.03) scale(0.8,1)" font-size="7.4" font-style="italic" fill="#333" stroke="#333" stroke-width="0.15">Trsp<tspan font-size="5.92" dy="-2.96" dx="1.6" letter-spacing="0.4" stroke-width="0.05">Δ/Δ</tspan></text>
<text transform="translate(451.00,642.03) scale(0.8,1)" font-size="7.4" font-style="italic" fill="#333" stroke="#333" stroke-width="0.15">Trsp<tspan font-size="5.92" dy="-2.96" dx="1.6" letter-spacing="0.4" stroke-width="0.05">fl/Δ</tspan></text>
<text transform="translate(10.20,750.79) scale(1.0,1)" x="0" y="0" font-size="11.8" text-anchor="start" font-weight="bold" font-style="normal" fill="#111" stroke="#111" stroke-width="0.300" >I</text>
<text x="31.70" y="769.39" font-size="7.3" textLength="15.90" lengthAdjust="spacingAndGlyphs" font-weight="normal" font-style="normal" fill="#222" stroke="#222" stroke-width="0.146">ProE</text>
<line x1="31.70" y1="770.00" x2="47.60" y2="770.00" stroke="#333" stroke-width="0.6" />
<line x1="56.00" y1="768.30" x2="62.50" y2="768.30" stroke="#111" stroke-width="1.0" />
<line x1="92.50" y1="768.30" x2="97.50" y2="768.30" stroke="#111" stroke-width="1.0" />
<line x1="100.00" y1="768.30" x2="105.00" y2="768.30" stroke="#111" stroke-width="1.0" />
<line x1="107.00" y1="768.30" x2="112.00" y2="768.30" stroke="#111" stroke-width="1.0" />
<line x1="139.50" y1="768.30" x2="146.20" y2="768.30" stroke="#111" stroke-width="1.0" />
<text x="69.50" y="770.59" font-size="7.3" textLength="18.00" lengthAdjust="spacingAndGlyphs" font-weight="normal" font-style="normal" fill="#222" stroke="#222" stroke-width="0.146">Se-D</text>
<text x="117.00" y="770.59" font-size="7.3" textLength="16.70" lengthAdjust="spacingAndGlyphs" font-weight="normal" font-style="normal" fill="#222" stroke="#222" stroke-width="0.146">Se-A</text>
<text x="152.50" y="770.59" font-size="7.3" textLength="13.70" lengthAdjust="spacingAndGlyphs" font-weight="normal" font-style="normal" fill="#222" stroke="#222" stroke-width="0.146">kDa</text>
<text x="9.50" y="788.49" font-size="7.3" textLength="37.50" lengthAdjust="spacingAndGlyphs" font-weight="normal" font-style="normal" fill="#222" stroke="#222" stroke-width="0.146">IB: GATA-1</text>
<text x="9.50" y="827.89" font-size="7.3" textLength="37.50" lengthAdjust="spacingAndGlyphs" font-weight="normal" font-style="normal" fill="#222" stroke="#222" stroke-width="0.146">IB: GAPDH</text>
<text transform="translate(156.00,789.35) scale(0.92,1)" x="0" y="0" font-size="8.6" text-anchor="start" font-weight="normal" font-style="normal" fill="#222" stroke="#222" stroke-width="0.172" >47</text>
<text transform="translate(156.00,811.05) scale(0.92,1)" x="0" y="0" font-size="8.6" text-anchor="start" font-weight="normal" font-style="normal" fill="#222" stroke="#222" stroke-width="0.172" >30</text>
<text transform="translate(156.00,828.05) scale(0.92,1)" x="0" y="0" font-size="8.6" text-anchor="start" font-weight="normal" font-style="normal" fill="#222" stroke="#222" stroke-width="0.172" >37</text>
<rect x="52.00" y="775.00" width="100.00" height="38.00" stroke="#111" stroke-width="1.6" fill="#d6d6d6" />
<rect x="52.00" y="816.30" width="100.00" height="18.20" stroke="#111" stroke-width="1.6" fill="#d6d6d6" />
<rect x="56.00" y="784.80" width="13.00" height="2.00" rx="1.00" fill="#111" fill-opacity="0.45" filter="url(#f5)"/>
<rect x="76.50" y="784.80" width="8.50" height="2.00" rx="1.00" fill="#111" fill-opacity="0.5" filter="url(#f5)"/>
<rect x="103.50" y="783.70" width="13.00" height="3.20" rx="1.60" fill="#111" fill-opacity="1.0" filter="url(#f5)"/>
<path d="M108.5,784.5 C109.5,782 111.5,780.6 113.5,780.8 C115.3,781 116.2,782.4 116,784.6 Z" fill="#222" fill-opacity="0.85" filter="url(#f5)"/>
<rect x="117.50" y="784.10" width="14.50" height="3.40" rx="1.70" fill="#111" fill-opacity="1.0" filter="url(#f5)"/>
<rect x="134.00" y="783.90" width="12.00" height="2.60" rx="1.30" fill="#111" fill-opacity="1.0" filter="url(#f5)"/>
<rect x="55.50" y="806.80" width="14.00" height="3.00" rx="1.50" fill="#111" fill-opacity="1.0" filter="url(#f5)"/>
<rect x="71.50" y="806.80" width="14.50" height="3.00" rx="1.50" fill="#111" fill-opacity="1.0" filter="url(#f5)"/>
<rect x="87.50" y="807.60" width="12.50" height="1.80" rx="0.90" fill="#111" fill-opacity="0.9" filter="url(#f5)"/>
<rect x="103.50" y="806.80" width="13.00" height="3.00" rx="1.50" fill="#111" fill-opacity="1.0" filter="url(#f5)"/>
<rect x="117.50" y="806.20" width="15.00" height="3.60" rx="1.80" fill="#111" fill-opacity="1.0" filter="url(#f5)"/>
<rect x="134.00" y="806.30" width="12.50" height="3.40" rx="1.70" fill="#111" fill-opacity="1.0" filter="url(#f5)"/>
<circle cx="110.5" cy="801.5" r="0.9" fill="#111"/>
<circle cx="80.5" cy="788.5" r="0.5" fill="#555"/>
<rect x="55.50" y="822.80" width="14.00" height="3.60" rx="1.80" fill="#111" fill-opacity="1.0" filter="url(#f5)"/>
<rect x="71.00" y="822.80" width="15.00" height="3.60" rx="1.80" fill="#111" fill-opacity="1.0" filter="url(#f5)"/>
<rect x="88.00" y="824.20" width="12.00" height="1.60" rx="0.80" fill="#111" fill-opacity="0.9" filter="url(#f5)"/>
<rect x="103.50" y="823.30" width="13.00" height="3.00" rx="1.50" fill="#111" fill-opacity="1.0" filter="url(#f5)"/>
<rect x="117.50" y="822.30" width="15.50" height="4.80" rx="2.40" fill="#111" fill-opacity="1.0" filter="url(#f5)"/>
<rect x="134.00" y="823.70" width="12.00" height="2.60" rx="1.30" fill="#111" fill-opacity="1.0" filter="url(#f5)"/>
<line x1="220.50" y1="757.10" x2="220.50" y2="836.90" stroke="#111" stroke-width="1.5" />
<line x1="217.50" y1="760.90" x2="220.50" y2="760.90" stroke="#111" stroke-width="1.1" />
<text transform="translate(213.00,763.60) scale(0.92,1)" x="0" y="0" font-size="7.6" text-anchor="end" font-weight="normal" font-style="normal" fill="#222" stroke="#222" stroke-width="0.152" >1.5</text>
<line x1="217.50" y1="786.00" x2="220.50" y2="786.00" stroke="#111" stroke-width="1.1" />
<text transform="translate(213.00,788.70) scale(0.92,1)" x="0" y="0" font-size="7.6" text-anchor="end" font-weight="normal" font-style="normal" fill="#222" stroke="#222" stroke-width="0.152" >1.0</text>
<line x1="217.50" y1="811.40" x2="220.50" y2="811.40" stroke="#111" stroke-width="1.1" />
<text transform="translate(213.00,814.10) scale(0.92,1)" x="0" y="0" font-size="7.6" text-anchor="end" font-weight="normal" font-style="normal" fill="#222" stroke="#222" stroke-width="0.152" >0.5</text>
<line x1="217.50" y1="836.90" x2="220.50" y2="836.90" stroke="#111" stroke-width="1.1" />
<text transform="translate(213.00,839.60) scale(0.92,1)" x="0" y="0" font-size="7.6" text-anchor="end" font-weight="normal" font-style="normal" fill="#222" stroke="#222" stroke-width="0.152" >0.0</text>
<line x1="220.60" y1="836.90" x2="273.70" y2="836.90" stroke="#111" stroke-width="1.3" />
<line x1="233.50" y1="836.90" x2="233.50" y2="840.00" stroke="#111" stroke-width="1.0" />
<line x1="258.90" y1="836.90" x2="258.90" y2="840.00" stroke="#111" stroke-width="1.0" />
<rect x="224.70" y="829.00" width="17.50" height="7.90" fill="#bb1234"/>
<line x1="233.50" y1="827.20" x2="233.50" y2="829.00" stroke="#bb1234" stroke-width="1.0" />
<line x1="231.00" y1="827.20" x2="236.00" y2="827.20" stroke="#bb1234" stroke-width="1.0" />
<text transform="translate(233.30,826.55) scale(1.0,1)" x="0" y="0" font-size="5.5" text-anchor="middle" font-weight="normal" font-style="normal" fill="#444" stroke="#444" stroke-width="0.110" >**</text>
<rect x="250.20" y="781.20" width="17.30" height="55.70" fill="#2c4b82"/>
<line x1="259.00" y1="772.50" x2="259.00" y2="781.20" stroke="#2c4b82" stroke-width="1.1" />
<line x1="255.60" y1="772.50" x2="263.70" y2="772.50" stroke="#2c4b82" stroke-width="1.1" />
<rect x="275.80" y="763.70" width="9.40" height="6.10" fill="#bb1234"/>
<rect x="275.80" y="773.00" width="9.40" height="6.80" fill="#2c4b82"/>
<text x="288.30" y="769.21" font-size="6.8" textLength="11.70" lengthAdjust="spacingAndGlyphs" font-weight="normal" font-style="normal" fill="#222" stroke="#222" stroke-width="0.136">Se-D</text>
<text x="288.30" y="778.81" font-size="6.8" textLength="11.30" lengthAdjust="spacingAndGlyphs" font-weight="normal" font-style="normal" fill="#222" stroke="#222" stroke-width="0.136">Se-A</text>
<g transform="translate(183.45,796.75) rotate(-90)"><text x="0" y="0" font-size="8.6" text-anchor="middle" fill="#222" stroke="#222" stroke-width="0.172" textLength="83.50" lengthAdjust="spacingAndGlyphs">Densitometry of 47kDa</text></g>
<g transform="translate(195.55,796.80) rotate(-90)"><text x="0" y="0" font-size="8.6" text-anchor="middle" fill="#222" stroke="#222" stroke-width="0.172" textLength="63.20" lengthAdjust="spacingAndGlyphs">GATA-1 to GAPDH</text></g>
<rect x="0.00" y="0.00" width="520.00" height="1.20" fill="#000"/>
<rect x="0.00" y="0.00" width="1.60" height="850.00" fill="#000"/>
<rect x="518.40" y="0.00" width="1.60" height="850.00" fill="#000"/>
<rect x="0.00" y="847.80" width="520.00" height="2.20" fill="#000"/>
</svg>
</body></html>
